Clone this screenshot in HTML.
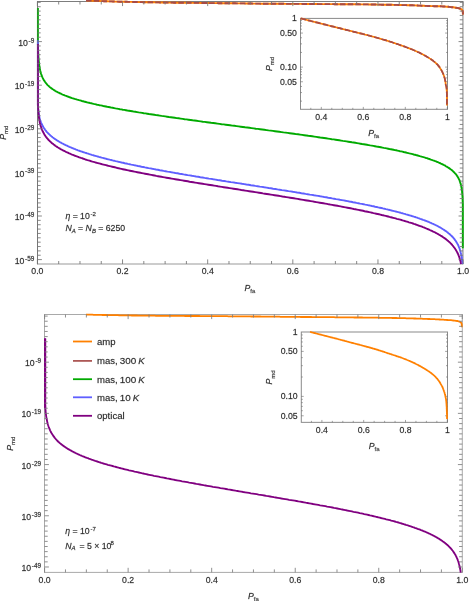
<!DOCTYPE html>
<html><head><meta charset="utf-8"><title>ROC plots</title>
<style>
html,body{margin:0;padding:0;background:#fff;}
body{width:469px;height:601px;overflow:hidden;font-family:"Liberation Sans",sans-serif;}
svg{display:block;font-family:"Liberation Sans",sans-serif;will-change:transform;}
text{stroke:#2a2a2a;stroke-width:0.3px;stroke-opacity:0.55;}
</style></head><body>
<svg width="469" height="601" viewBox="0 0 469 601">
<rect width="469" height="601" fill="#fff"/>
<line x1="37.50" y1="1.07" x2="37.50" y2="264.43" stroke="#666" stroke-width="0.85"/>
<line x1="462.95" y1="1.07" x2="462.95" y2="264.43" stroke="#666" stroke-width="0.85"/>
<line x1="37.50" y1="1.50" x2="462.95" y2="1.50" stroke="#666" stroke-width="0.85"/>
<line x1="37.50" y1="264.00" x2="462.95" y2="264.00" stroke="#888" stroke-width="0.85"/>
<path d="M86.0,0.4L87.3,0.5L88.5,0.5L89.8,0.6L91.1,0.6L92.4,0.7L93.6,0.8L94.9,0.8L96.2,0.9L97.5,0.9L98.7,1.0L100.0,1.0L101.3,1.1L102.6,1.1L103.8,1.2L105.1,1.2L106.4,1.3L107.7,1.3L108.9,1.4L110.2,1.4L111.5,1.4L112.8,1.5L114.0,1.5L115.3,1.6L116.6,1.6L117.9,1.6L119.1,1.7L120.4,1.7L121.7,1.7L123.0,1.7L124.2,1.8L125.5,1.8L126.8,1.8L128.1,1.9L129.3,1.9L130.6,1.9L131.9,1.9L133.2,2.0L134.4,2.0L135.7,2.0L137.0,2.0L138.3,2.1L139.5,2.1L140.8,2.1L142.1,2.1L143.4,2.2L144.6,2.2L145.9,2.2L147.2,2.2L148.5,2.3L149.7,2.3L151.0,2.3L152.3,2.3L153.6,2.3L154.9,2.4L156.1,2.4L157.4,2.4L158.7,2.4L160.0,2.5L161.2,2.5L162.5,2.5L163.8,2.5L165.1,2.5L166.3,2.5L167.6,2.6L168.9,2.6L170.2,2.6L171.4,2.6L172.7,2.6L174.0,2.7L175.3,2.7L176.5,2.7L177.8,2.7L179.1,2.7L180.4,2.7L181.6,2.7L182.9,2.8L184.2,2.8L185.5,2.8L186.7,2.8L188.0,2.8L189.3,2.8L190.6,2.8L191.8,2.9L193.1,2.9L194.4,2.9L195.7,2.9L196.9,2.9L198.2,2.9L199.5,2.9L200.8,3.0L202.0,3.0L203.3,3.0L204.6,3.0L205.9,3.0L207.1,3.0L208.4,3.0L209.7,3.1L211.0,3.1L212.2,3.1L213.5,3.1L214.8,3.1L216.1,3.1L217.4,3.1L218.6,3.2L219.9,3.2L221.2,3.2L222.5,3.2L223.7,3.2L225.0,3.2L226.3,3.2L227.6,3.3L228.8,3.3L230.1,3.3L231.4,3.3L232.7,3.3L233.9,3.3L235.2,3.3L236.5,3.4L237.8,3.4L239.0,3.4L240.3,3.4L241.6,3.4L242.9,3.4L244.1,3.4L245.4,3.5L246.7,3.5L248.0,3.5L249.2,3.5L250.5,3.5L251.8,3.5L253.1,3.6L254.3,3.6L255.6,3.6L256.9,3.6L258.2,3.6L259.4,3.6L260.7,3.7L262.0,3.7L263.3,3.7L264.5,3.7L265.8,3.7L267.1,3.7L268.4,3.7L269.6,3.7L270.9,3.8L272.2,3.8L273.5,3.8L274.7,3.8L276.0,3.8L277.3,3.8L278.6,3.8L279.9,3.8L281.1,3.8L282.4,3.8L283.7,3.8L285.0,3.9L286.2,3.9L287.5,3.9L288.8,3.9L290.1,3.9L291.3,3.9L292.6,3.9L293.9,3.9L295.2,3.9L296.4,3.9L297.7,3.9L299.0,3.9L300.3,3.9L301.5,3.9L302.8,4.0L304.1,4.0L305.4,4.0L306.6,4.0L307.9,4.0L309.2,4.0L310.5,4.0L311.7,4.0L313.0,4.0L314.3,4.0L315.6,4.0L316.8,4.0L318.1,4.1L319.4,4.1L320.7,4.1L321.9,4.1L323.2,4.1L324.5,4.1L325.8,4.1L327.0,4.1L328.3,4.1L329.6,4.1L330.9,4.1L332.2,4.1L333.4,4.1L334.7,4.2L336.0,4.2L337.3,4.2L338.5,4.2L339.8,4.2L341.1,4.2L342.4,4.2L343.6,4.2L344.9,4.2L346.2,4.2L347.5,4.2L348.7,4.3L350.0,4.3L351.3,4.3L352.6,4.3L353.8,4.3L355.1,4.3L356.4,4.3L357.7,4.3L358.9,4.3L360.2,4.4L361.5,4.4L362.8,4.4L364.0,4.4L365.3,4.4L366.6,4.4L367.9,4.4L369.1,4.5L370.4,4.5L371.7,4.5L373.0,4.5L374.2,4.5L375.5,4.5L376.8,4.6L378.1,4.6L379.3,4.6L380.6,4.6L381.9,4.7L383.2,4.7L384.4,4.7L385.7,4.7L387.0,4.7L388.3,4.8L389.5,4.8L390.8,4.8L392.1,4.8L393.4,4.9L394.7,4.9L395.9,4.9L397.2,4.9L398.5,5.0L399.8,5.0L401.0,5.0L402.3,5.1L403.6,5.1L404.9,5.1L406.1,5.1L407.4,5.2L408.7,5.2L410.0,5.3L411.2,5.3L412.5,5.3L413.8,5.4L415.1,5.4L416.3,5.5L417.6,5.5L418.9,5.6L420.2,5.6L421.4,5.7L422.7,5.7L424.0,5.8L425.2,5.9L426.5,5.9L427.8,6.0L429.1,6.0L430.3,6.0L431.6,6.1L432.9,6.1L434.2,6.2L435.5,6.2L436.7,6.2L438.0,6.3L439.3,6.3L440.5,6.3L441.8,6.4L443.1,6.5L444.4,6.5L445.6,6.6L446.9,6.7L448.2,6.8L449.5,6.9L450.7,7.1L452.0,7.2L453.3,7.3L454.5,7.5L455.8,7.7L457.1,7.9L458.3,8.1L459.6,8.5L460.8,8.9L461.9,9.6L462.5,10.7L462.8,11.9L462.9,13.2L462.9,14.5" fill="none" stroke="#ff8000" stroke-width="1.9"/>
<path d="M86.0,0.4L87.3,0.5L88.5,0.5L89.8,0.6L91.1,0.6L92.4,0.7L93.6,0.8L94.9,0.8L96.2,0.9L97.5,0.9L98.7,1.0L100.0,1.0L101.3,1.1L102.6,1.1L103.8,1.2L105.1,1.2L106.4,1.3L107.7,1.3L108.9,1.4L110.2,1.4L111.5,1.4L112.8,1.5L114.0,1.5L115.3,1.6L116.6,1.6L117.9,1.6L119.1,1.7L120.4,1.7L121.7,1.7L123.0,1.7L124.2,1.8L125.5,1.8L126.8,1.8L128.1,1.9L129.3,1.9L130.6,1.9L131.9,1.9L133.2,2.0L134.4,2.0L135.7,2.0L137.0,2.0L138.3,2.1L139.5,2.1L140.8,2.1L142.1,2.1L143.4,2.2L144.6,2.2L145.9,2.2L147.2,2.2L148.5,2.3L149.7,2.3L151.0,2.3L152.3,2.3L153.6,2.3L154.9,2.4L156.1,2.4L157.4,2.4L158.7,2.4L160.0,2.5L161.2,2.5L162.5,2.5L163.8,2.5L165.1,2.5L166.3,2.5L167.6,2.6L168.9,2.6L170.2,2.6L171.4,2.6L172.7,2.6L174.0,2.7L175.3,2.7L176.5,2.7L177.8,2.7L179.1,2.7L180.4,2.7L181.6,2.7L182.9,2.8L184.2,2.8L185.5,2.8L186.7,2.8L188.0,2.8L189.3,2.8L190.6,2.8L191.8,2.9L193.1,2.9L194.4,2.9L195.7,2.9L196.9,2.9L198.2,2.9L199.5,2.9L200.8,3.0L202.0,3.0L203.3,3.0L204.6,3.0L205.9,3.0L207.1,3.0L208.4,3.0L209.7,3.1L211.0,3.1L212.2,3.1L213.5,3.1L214.8,3.1L216.1,3.1L217.4,3.1L218.6,3.2L219.9,3.2L221.2,3.2L222.5,3.2L223.7,3.2L225.0,3.2L226.3,3.2L227.6,3.3L228.8,3.3L230.1,3.3L231.4,3.3L232.7,3.3L233.9,3.3L235.2,3.3L236.5,3.4L237.8,3.4L239.0,3.4L240.3,3.4L241.6,3.4L242.9,3.4L244.1,3.4L245.4,3.5L246.7,3.5L248.0,3.5L249.2,3.5L250.5,3.5L251.8,3.5L253.1,3.6L254.3,3.6L255.6,3.6L256.9,3.6L258.2,3.6L259.4,3.6L260.7,3.7L262.0,3.7L263.3,3.7L264.5,3.7L265.8,3.7L267.1,3.7L268.4,3.7L269.6,3.7L270.9,3.8L272.2,3.8L273.5,3.8L274.7,3.8L276.0,3.8L277.3,3.8L278.6,3.8L279.9,3.8L281.1,3.8L282.4,3.8L283.7,3.8L285.0,3.9L286.2,3.9L287.5,3.9L288.8,3.9L290.1,3.9L291.3,3.9L292.6,3.9L293.9,3.9L295.2,3.9L296.4,3.9L297.7,3.9L299.0,3.9L300.3,3.9L301.5,3.9L302.8,4.0L304.1,4.0L305.4,4.0L306.6,4.0L307.9,4.0L309.2,4.0L310.5,4.0L311.7,4.0L313.0,4.0L314.3,4.0L315.6,4.0L316.8,4.0L318.1,4.1L319.4,4.1L320.7,4.1L321.9,4.1L323.2,4.1L324.5,4.1L325.8,4.1L327.0,4.1L328.3,4.1L329.6,4.1L330.9,4.1L332.2,4.1L333.4,4.1L334.7,4.2L336.0,4.2L337.3,4.2L338.5,4.2L339.8,4.2L341.1,4.2L342.4,4.2L343.6,4.2L344.9,4.2L346.2,4.2L347.5,4.2L348.7,4.3L350.0,4.3L351.3,4.3L352.6,4.3L353.8,4.3L355.1,4.3L356.4,4.3L357.7,4.3L358.9,4.3L360.2,4.4L361.5,4.4L362.8,4.4L364.0,4.4L365.3,4.4L366.6,4.4L367.9,4.4L369.1,4.5L370.4,4.5L371.7,4.5L373.0,4.5L374.2,4.5L375.5,4.5L376.8,4.6L378.1,4.6L379.3,4.6L380.6,4.6L381.9,4.7L383.2,4.7L384.4,4.7L385.7,4.7L387.0,4.7L388.3,4.8L389.5,4.8L390.8,4.8L392.1,4.8L393.4,4.9L394.7,4.9L395.9,4.9L397.2,4.9L398.5,5.0L399.8,5.0L401.0,5.0L402.3,5.1L403.6,5.1L404.9,5.1L406.1,5.1L407.4,5.2L408.7,5.2L410.0,5.3L411.2,5.3L412.5,5.3L413.8,5.4L415.1,5.4L416.3,5.5L417.6,5.5L418.9,5.6L420.2,5.6L421.4,5.7L422.7,5.7L424.0,5.8L425.2,5.9L426.5,5.9L427.8,6.0L429.1,6.0L430.3,6.0L431.6,6.1L432.9,6.1L434.2,6.2L435.5,6.2L436.7,6.2L438.0,6.3L439.3,6.3L440.5,6.3L441.8,6.4L443.1,6.5L444.4,6.5L445.6,6.6L446.9,6.7L448.2,6.8L449.5,6.9L450.7,7.1L452.0,7.2L453.3,7.3L454.5,7.5L455.8,7.7L457.1,7.9L458.3,8.1L459.6,8.5L460.8,8.9L461.9,9.6L462.5,10.7L462.8,11.9L462.9,13.2L462.9,14.5" fill="none" stroke="#a84a46" stroke-width="1.9" stroke-dasharray="5.6 2.1"/>
<path d="M37.9,8.0L37.9,9.1L37.9,10.3L37.9,11.3L37.9,12.4L37.9,13.5L37.9,14.5L37.9,15.6L37.9,16.6L37.9,17.6L37.9,18.6L37.9,19.6L37.9,20.6L37.9,21.6L37.9,22.6L37.9,23.5L37.9,24.4L37.9,25.4L37.9,26.3L37.9,27.2L37.9,28.1L37.9,29.0L37.9,29.9L37.9,30.7L37.9,31.6L37.9,32.4L37.9,33.3L37.9,34.1L37.9,34.9L37.9,35.7L37.9,36.5L37.9,37.3L37.9,38.1L37.9,38.8L37.9,39.6L37.9,40.4L37.9,41.1L37.9,41.8L37.9,42.6L37.9,43.3L37.9,44.0L37.9,44.7L37.9,45.4L38.0,46.1L38.0,46.8L38.0,47.4L38.0,48.1L38.0,48.8L38.1,49.4L38.1,50.0L38.1,50.7L38.1,51.3L38.2,51.9L38.2,52.5L38.2,53.1L38.3,53.7L38.3,54.3L38.3,54.9L38.4,55.5L38.4,56.1L38.4,56.7L38.5,57.2L38.5,57.8L38.5,58.3L38.6,58.9L38.6,59.4L38.7,59.9L38.7,60.5L38.8,61.0L38.8,61.5L38.9,62.0L38.9,62.5L39.0,63.0L39.1,64.0L39.2,65.0L39.4,65.9L39.5,66.8L39.7,67.7L39.8,68.6L40.0,69.5L40.2,70.4L40.4,71.2L40.6,72.0L40.8,72.8L41.0,73.6L41.3,74.4L41.6,75.2L41.8,75.9L42.1,76.7L42.5,77.4L42.8,78.1L43.2,78.8L43.5,79.5L43.9,80.2L44.4,80.9L44.8,81.5L45.3,82.2L45.8,82.9L46.3,83.5L46.8,84.1L47.4,84.8L48.0,85.4L48.7,86.0L49.3,86.6L50.0,87.2L50.8,87.8L51.5,88.4L52.4,89.0L52.8,89.3L53.2,89.5L53.6,89.8L54.1,90.1L54.6,90.4L55.0,90.7L55.5,91.0L56.0,91.3L56.5,91.5L57.0,91.8L57.5,92.1L58.1,92.4L58.6,92.6L59.2,92.9L59.7,93.2L60.3,93.5L60.9,93.7L61.5,94.0L62.1,94.3L62.8,94.6L63.4,94.8L64.1,95.1L64.7,95.4L65.4,95.7L66.1,95.9L66.8,96.2L67.5,96.5L68.3,96.7L69.0,97.0L69.8,97.3L70.5,97.5L71.3,97.8L72.1,98.1L72.9,98.3L73.8,98.6L74.6,98.9L75.5,99.1L76.4,99.4L77.2,99.7L78.2,99.9L79.1,100.2L80.0,100.4L81.0,100.7L81.9,101.0L82.9,101.2L83.9,101.5L84.9,101.8L85.9,102.0L87.0,102.3L88.1,102.6L89.1,102.8L90.2,103.1L91.3,103.3L92.5,103.6L93.6,103.9L94.8,104.1L95.9,104.4L97.1,104.7L98.3,104.9L99.5,105.2L100.8,105.4L102.0,105.7L103.3,106.0L104.6,106.2L105.9,106.5L107.2,106.8L108.6,107.0L109.9,107.3L111.3,107.6L112.7,107.8L114.1,108.1L115.5,108.4L116.9,108.6L118.4,108.9L119.9,109.2L121.3,109.4L122.8,109.7L124.4,109.9L125.9,110.2L127.4,110.5L129.0,110.7L130.6,111.0L132.2,111.3L133.8,111.6L135.4,111.8L137.0,112.1L138.7,112.4L140.4,112.6L142.1,112.9L143.8,113.2L145.5,113.4L147.2,113.7L149.0,114.0L150.7,114.2L152.5,114.5L154.3,114.8L156.1,115.1L157.9,115.3L159.7,115.6L161.6,115.9L163.4,116.1L165.3,116.4L167.1,116.7L169.0,117.0L170.9,117.2L172.8,117.5L174.8,117.8L176.7,118.1L178.7,118.3L180.6,118.6L182.6,118.9L184.6,119.2L186.5,119.4L188.5,119.7L190.6,120.0L192.6,120.3L194.6,120.5L196.6,120.8L198.7,121.1L200.7,121.4L202.8,121.7L204.8,121.9L206.9,122.2L209.0,122.5L211.1,122.8L213.2,123.0L215.3,123.3L217.4,123.6L219.5,123.9L221.6,124.2L223.7,124.4L225.8,124.7L228.0,125.0L230.1,125.3L232.2,125.6L234.4,125.8L236.5,126.1L238.6,126.4L240.8,126.7L242.9,127.0L245.1,127.3L247.2,127.5L249.4,127.8L251.5,128.1L253.7,128.4L255.8,128.7L257.9,128.9L260.1,129.2L262.2,129.5L264.4,129.8L266.5,130.1L268.6,130.4L270.8,130.6L272.9,130.9L275.0,131.2L277.1,131.5L279.3,131.8L281.4,132.1L283.5,132.4L285.6,132.6L287.7,132.9L289.8,133.2L291.9,133.5L293.9,133.8L296.0,134.1L298.1,134.3L300.1,134.6L302.2,134.9L304.2,135.2L306.3,135.5L308.3,135.8L310.3,136.0L312.3,136.3L314.3,136.6L316.3,136.9L318.3,137.2L320.2,137.5L322.2,137.7L324.1,138.0L326.1,138.3L328.0,138.6L329.9,138.9L331.8,139.2L333.7,139.4L335.6,139.7L337.4,140.0L339.3,140.3L341.1,140.6L342.9,140.9L344.8,141.1L346.5,141.4L348.3,141.7L350.1,142.0L351.9,142.3L353.6,142.5L355.3,142.8L357.0,143.1L358.7,143.4L360.4,143.7L362.1,144.0L363.8,144.2L365.4,144.5L367.0,144.8L368.6,145.1L370.2,145.4L371.8,145.6L373.4,145.9L374.9,146.2L376.4,146.5L378.0,146.7L379.4,147.0L380.9,147.3L382.4,147.6L383.8,147.9L385.3,148.1L386.7,148.4L388.1,148.7L389.5,149.0L390.9,149.2L392.2,149.5L393.5,149.8L394.9,150.1L396.2,150.3L397.4,150.6L398.7,150.9L400.0,151.2L401.2,151.4L402.4,151.7L403.6,152.0L404.8,152.3L406.0,152.5L407.1,152.8L408.3,153.1L409.4,153.4L410.5,153.6L411.6,153.9L412.7,154.2L413.7,154.5L414.8,154.7L415.8,155.0L416.8,155.3L417.8,155.5L418.8,155.8L419.8,156.1L420.7,156.3L421.6,156.6L422.6,156.9L423.5,157.2L424.4,157.4L425.2,157.7L426.1,158.0L426.9,158.2L427.8,158.5L428.6,158.8L429.4,159.0L430.2,159.3L430.9,159.6L431.7,159.8L432.4,160.1L433.2,160.4L433.9,160.6L434.6,160.9L435.3,161.2L436.0,161.4L436.6,161.7L437.3,162.0L437.9,162.2L438.6,162.5L439.2,162.8L439.8,163.0L440.4,163.3L440.9,163.6L441.5,163.8L442.1,164.1L442.6,164.4L443.1,164.7L443.7,164.9L444.2,165.2L444.7,165.5L445.2,165.7L445.6,166.0L446.1,166.3L446.6,166.5L447.0,166.8L447.4,167.1L447.9,167.3L448.7,167.9L449.5,168.4L450.2,168.9L451.0,169.5L451.7,170.0L452.3,170.6L452.9,171.1L453.5,171.7L454.1,172.2L454.6,172.8L455.1,173.3L455.6,173.9L456.1,174.4L456.5,175.0L456.9,175.6L457.3,176.1L457.6,176.7L458.0,177.3L458.3,177.9L458.6,178.5L458.9,179.0L459.2,179.6L459.5,180.2L459.7,180.9L459.9,181.5L460.1,182.1L460.3,182.7L460.5,183.4L460.7,184.0L460.9,184.7L461.0,185.3L461.2,186.0L461.3,186.7L461.4,187.3L461.6,188.0L461.7,188.7L461.8,189.5L461.9,190.2L462.0,190.9L462.1,191.7L462.1,192.4L462.2,193.2L462.3,194.0L462.3,194.8L462.4,195.6L462.5,196.5L462.5,197.3L462.6,198.2L462.6,199.1L462.6,200.0L462.7,200.9L462.7,201.8L462.7,202.8L462.8,203.7L462.8,204.7L462.8,205.2L462.8,205.7L462.8,206.2L462.8,206.8L462.8,207.3L462.8,207.8L462.8,208.4L462.8,208.9L462.8,209.4L462.8,210.0L462.8,210.6L462.8,211.1L462.8,211.7L462.8,212.3L462.8,212.9L462.8,213.4L462.8,214.0L462.8,214.6L462.8,215.3L462.8,215.9L462.8,216.5L462.8,217.1L462.8,217.8L462.8,218.4L462.8,219.1L462.8,219.7L462.8,220.4L462.8,221.1L462.8,221.8L462.8,222.4L462.8,223.1L462.8,223.8L462.8,224.6L462.8,225.3L462.8,226.0L462.8,226.7L462.8,227.5L462.8,228.3L462.8,229.0L462.8,229.8L462.8,230.6L462.8,231.4L462.8,232.2L462.8,233.0L462.8,233.8L462.8,234.6L462.8,235.5L462.8,236.3L462.8,237.2L462.8,238.0L462.8,238.9L462.8,239.8L462.8,240.7L462.8,241.6L462.8,242.5L462.8,243.5L462.8,244.4L462.8,245.3L462.8,246.3L462.8,247.3L462.8,248.3L462.8,248.3" fill="none" stroke="#00aa00" stroke-width="1.9"/>
<path d="M37.9,40.3L37.9,83.4L37.9,83.9L37.9,84.5L37.9,85.0L37.9,85.5L37.9,86.1L37.9,86.7L37.9,87.2L37.9,87.8L37.9,88.4L37.9,89.1L37.9,89.6L37.9,90.1L37.9,90.6L37.9,91.2L37.9,91.8L37.9,92.4L37.9,93.0L37.9,93.6L37.9,94.2L37.9,94.9L37.9,95.5L37.9,96.2L37.9,96.9L37.9,97.6L37.9,98.3L37.9,99.1L37.9,99.8L37.9,100.3L37.9,100.8L37.9,101.3L37.9,101.9L37.9,102.4L37.9,102.9L37.9,103.5L37.9,104.0L37.9,104.5L37.9,105.1L37.9,105.6L37.9,106.2L38.0,106.7L38.0,107.3L38.0,107.9L38.1,108.5L38.1,109.0L38.2,109.6L38.3,110.2L38.3,110.8L38.4,111.4L38.5,112.0L38.6,112.6L38.7,113.2L38.7,113.8L38.9,114.4L39.0,115.0L39.1,115.6L39.2,116.2L39.4,116.8L39.5,117.5L39.7,118.1L39.8,118.7L40.0,119.3L40.2,120.0L40.4,120.6L40.6,121.3L40.9,121.9L41.1,122.5L41.4,123.2L41.7,123.8L42.0,124.5L42.3,125.1L42.6,125.8L43.0,126.4L43.4,127.1L43.8,127.8L44.2,128.4L44.7,129.1L45.1,129.7L45.6,130.4L46.2,131.1L46.7,131.8L47.3,132.4L48.0,133.1L48.6,133.8L49.3,134.4L50.1,135.1L50.4,135.5L50.8,135.8L51.2,136.1L51.6,136.5L52.1,136.8L52.5,137.2L52.9,137.5L53.4,137.8L53.8,138.2L54.3,138.5L54.8,138.9L55.3,139.2L55.8,139.5L56.3,139.9L56.8,140.2L57.4,140.6L57.9,140.9L58.5,141.3L59.1,141.6L59.7,142.0L60.3,142.3L60.9,142.6L61.5,143.0L62.1,143.3L62.8,143.7L63.5,144.0L64.1,144.4L64.8,144.7L65.5,145.1L66.3,145.4L67.0,145.7L67.8,146.1L68.5,146.4L69.3,146.8L70.1,147.1L70.9,147.5L71.7,147.8L72.6,148.2L73.4,148.5L74.3,148.9L75.2,149.2L76.1,149.6L77.0,149.9L78.0,150.3L78.9,150.6L79.9,151.0L80.9,151.3L81.9,151.6L82.9,152.0L83.9,152.3L85.0,152.7L86.1,153.0L87.2,153.4L88.3,153.7L89.4,154.1L90.5,154.4L91.7,154.8L92.9,155.1L94.0,155.5L95.3,155.8L96.5,156.2L97.7,156.5L99.0,156.9L100.3,157.2L101.6,157.6L102.9,157.9L104.2,158.3L105.6,158.6L106.9,159.0L108.3,159.3L109.7,159.7L111.1,160.0L112.6,160.4L114.0,160.7L115.5,161.1L117.0,161.4L118.5,161.8L120.0,162.1L121.6,162.5L123.2,162.8L124.7,163.2L126.3,163.5L127.9,163.9L129.6,164.2L131.2,164.6L132.9,164.9L134.6,165.3L136.3,165.6L138.0,166.0L139.7,166.3L141.5,166.7L143.2,167.0L145.0,167.4L146.8,167.7L148.6,168.1L150.4,168.4L152.3,168.8L154.1,169.1L156.0,169.5L157.9,169.8L159.8,170.2L161.7,170.5L163.6,170.9L165.5,171.2L167.5,171.6L169.5,171.9L171.4,172.3L173.4,172.6L175.4,173.0L177.5,173.3L179.5,173.7L181.5,174.0L183.6,174.4L185.6,174.7L187.7,175.1L189.8,175.4L191.9,175.8L194.0,176.1L196.1,176.5L198.2,176.8L200.3,177.2L202.5,177.5L204.6,177.9L206.8,178.2L208.9,178.6L211.1,178.9L213.3,179.3L215.5,179.6L217.6,180.0L219.8,180.3L222.0,180.7L224.2,181.0L226.4,181.4L228.6,181.7L230.9,182.1L233.1,182.4L235.3,182.8L237.5,183.1L239.7,183.4L242.0,183.8L244.2,184.1L246.4,184.5L248.7,184.8L250.9,185.2L253.1,185.5L255.4,185.9L257.6,186.2L259.8,186.6L262.0,186.9L264.3,187.3L266.5,187.6L268.7,188.0L270.9,188.3L273.1,188.7L275.3,189.0L277.5,189.4L279.7,189.7L281.9,190.1L284.1,190.4L286.3,190.7L288.5,191.1L290.6,191.4L292.8,191.8L295.0,192.1L297.1,192.5L299.3,192.8L301.4,193.2L303.5,193.5L305.6,193.9L307.7,194.2L309.8,194.6L311.9,194.9L314.0,195.3L316.1,195.6L318.1,195.9L320.2,196.3L322.2,196.6L324.2,197.0L326.2,197.3L328.2,197.7L330.2,198.0L332.2,198.4L334.1,198.7L336.1,199.1L338.0,199.4L339.9,199.8L341.8,200.1L343.7,200.4L345.6,200.8L347.5,201.1L349.3,201.5L351.1,201.8L353.0,202.2L354.8,202.5L356.5,202.9L358.3,203.2L360.1,203.6L361.8,203.9L363.5,204.2L365.2,204.6L366.9,204.9L368.6,205.3L370.3,205.6L371.9,206.0L373.5,206.3L375.1,206.7L376.7,207.0L378.3,207.4L379.8,207.7L381.4,208.0L382.9,208.4L384.4,208.7L385.9,209.1L387.3,209.4L388.8,209.8L390.2,210.1L391.6,210.5L393.0,210.8L394.4,211.2L395.8,211.5L397.1,211.8L398.4,212.2L399.7,212.5L401.0,212.9L402.3,213.2L403.5,213.6L404.8,213.9L406.0,214.3L407.2,214.6L408.4,215.0L409.5,215.3L410.7,215.6L411.8,216.0L412.9,216.3L414.0,216.7L415.1,217.0L416.2,217.4L417.2,217.7L418.2,218.1L419.2,218.4L420.2,218.8L421.2,219.1L422.2,219.5L423.1,219.8L424.1,220.1L425.0,220.5L425.9,220.8L426.7,221.2L427.6,221.5L428.5,221.9L429.3,222.2L430.1,222.6L430.9,222.9L431.7,223.3L432.5,223.6L433.2,224.0L434.0,224.3L434.7,224.7L435.4,225.0L436.1,225.3L436.8,225.7L437.5,226.0L438.2,226.4L438.8,226.7L439.4,227.1L440.1,227.4L440.7,227.8L441.3,228.1L441.8,228.5L442.4,228.8L443.0,229.2L443.5,229.5L444.0,229.9L444.6,230.2L445.1,230.6L445.6,230.9L446.1,231.3L446.5,231.6L447.0,232.0L447.5,232.3L447.9,232.7L448.3,233.0L448.8,233.4L449.2,233.7L449.6,234.1L450.0,234.4L450.4,234.8L450.7,235.1L451.1,235.5L451.5,235.8L452.1,236.5L452.8,237.2L453.4,237.9L454.0,238.6L454.6,239.3L455.1,240.1L455.6,240.8L456.1,241.5L456.5,242.2L456.9,242.9L457.3,243.6L457.7,244.3L458.1,245.0L458.4,245.7L458.7,246.5L459.0,247.2L459.3,247.9L459.6,248.6L459.8,249.3L460.0,250.0L460.2,250.8L460.5,251.5L460.6,252.2L460.8,252.9L461.0,253.7L461.1,254.4L461.3,255.1L461.4,255.9L461.5,256.6L461.7,257.3L461.8,258.1L461.9,258.8L462.0,259.5L462.1,260.3L462.1,261.0L462.2,261.7L462.3,262.5L462.4,263.2L462.4,264.0L462.4,264.0" fill="none" stroke="#5f5fff" stroke-width="1.9"/>
<path d="M37.9,44.0L37.9,44.8L37.9,45.5L37.9,46.3L37.9,47.0L37.9,47.7L37.9,48.4L37.9,49.2L37.9,49.9L37.9,50.6L37.9,51.3L37.9,52.0L37.9,52.7L37.9,53.4L37.9,54.1L37.9,54.8L37.9,55.5L37.9,56.1L37.9,56.8L37.9,57.5L37.9,58.1L37.9,58.8L37.9,59.5L37.9,60.1L37.9,60.8L37.9,61.4L37.9,62.1L37.9,62.7L37.9,63.3L37.9,64.0L37.9,64.6L37.9,65.2L37.9,65.8L37.9,66.4L37.9,67.1L37.9,67.7L37.9,68.3L37.9,68.9L37.9,69.5L37.9,70.1L37.9,70.7L37.9,71.2L37.9,71.8L37.9,72.4L37.9,73.0L37.9,73.6L37.9,74.1L37.9,74.7L37.9,75.3L37.9,75.8L37.9,76.4L37.9,76.9L37.9,77.5L37.9,78.0L37.9,78.6L37.9,79.1L37.9,79.7L37.9,80.2L37.9,80.7L37.9,81.3L37.9,81.8L37.9,82.3L37.9,82.9L37.9,83.4L37.9,83.9L37.9,84.4L37.9,84.9L37.9,85.4L37.9,85.9L37.9,86.4L37.9,86.9L37.9,87.9L37.9,88.9L37.9,89.9L37.9,90.9L37.9,91.8L37.9,92.8L37.9,93.7L37.9,94.6L37.9,95.6L37.9,96.5L37.9,97.4L37.9,98.3L37.9,99.1L37.9,100.0L37.9,100.9L37.9,101.8L37.9,102.6L37.9,103.5L37.9,104.3L37.9,105.1L38.0,106.0L38.0,106.8L38.1,107.6L38.1,108.4L38.2,109.2L38.2,110.0L38.3,110.8L38.3,111.6L38.4,112.3L38.5,113.1L38.5,113.9L38.6,114.6L38.7,115.4L38.8,116.1L38.9,116.9L39.0,117.6L39.1,118.4L39.2,119.1L39.3,119.8L39.4,120.5L39.6,121.2L39.7,122.0L39.8,122.7L40.0,123.4L40.2,124.1L40.4,124.8L40.5,125.5L40.7,126.2L41.0,126.8L41.2,127.5L41.4,128.2L41.7,128.9L41.9,129.6L42.2,130.2L42.5,130.9L42.8,131.6L43.2,132.2L43.5,132.9L43.9,133.5L44.2,134.2L44.6,134.9L45.1,135.5L45.5,136.1L46.0,136.8L46.5,137.4L47.0,138.1L47.5,138.7L48.1,139.4L48.6,140.0L49.3,140.6L49.9,141.3L50.6,141.9L51.3,142.5L52.0,143.2L52.8,143.8L53.2,144.1L53.6,144.4L54.0,144.7L54.4,145.0L54.8,145.3L55.2,145.7L55.7,146.0L56.1,146.3L56.6,146.6L57.1,146.9L57.5,147.2L58.0,147.5L58.5,147.8L59.0,148.1L59.6,148.4L60.1,148.8L60.6,149.1L61.2,149.4L61.7,149.7L62.3,150.0L62.9,150.3L63.5,150.6L64.1,150.9L64.7,151.2L65.3,151.5L65.9,151.8L66.6,152.1L67.2,152.4L67.9,152.7L68.6,153.1L69.3,153.4L70.0,153.7L70.7,154.0L71.4,154.3L72.1,154.6L72.9,154.9L73.6,155.2L74.4,155.5L75.2,155.8L76.0,156.1L76.8,156.4L77.6,156.7L78.5,157.0L79.3,157.3L80.2,157.6L81.0,157.9L81.9,158.2L82.8,158.5L83.7,158.8L84.7,159.2L85.6,159.5L86.6,159.8L87.5,160.1L88.5,160.4L89.5,160.7L90.5,161.0L91.5,161.3L92.5,161.6L93.6,161.9L94.6,162.2L95.7,162.5L96.8,162.8L97.9,163.1L99.0,163.4L100.1,163.7L101.3,164.0L102.4,164.3L103.6,164.6L104.8,164.9L106.0,165.2L107.2,165.5L108.4,165.8L109.7,166.1L110.9,166.4L112.2,166.7L113.5,167.0L114.8,167.3L116.1,167.6L117.4,168.0L118.7,168.3L120.1,168.6L121.4,168.9L122.8,169.2L124.2,169.5L125.6,169.8L127.0,170.1L128.4,170.4L129.9,170.7L131.3,171.0L132.8,171.3L134.3,171.6L135.8,171.9L137.3,172.2L138.8,172.5L140.3,172.8L141.9,173.1L143.4,173.4L145.0,173.7L146.6,174.0L148.2,174.3L149.8,174.6L151.4,174.9L153.0,175.2L154.6,175.5L156.3,175.9L158.0,176.2L159.6,176.5L161.3,176.8L163.0,177.1L164.7,177.4L166.4,177.7L168.2,178.0L169.9,178.3L171.6,178.6L173.4,178.9L175.2,179.2L176.9,179.5L178.7,179.8L180.5,180.1L182.3,180.4L184.1,180.7L185.9,181.0L187.8,181.3L189.6,181.7L191.4,182.0L193.3,182.3L195.1,182.6L197.0,182.9L198.9,183.2L200.8,183.5L202.6,183.8L204.5,184.1L206.4,184.4L208.3,184.7L210.2,185.0L212.2,185.3L214.1,185.6L216.0,185.9L217.9,186.3L219.9,186.6L221.8,186.9L223.7,187.2L225.7,187.5L227.6,187.8L229.6,188.1L231.5,188.4L233.5,188.7L235.4,189.0L237.4,189.3L239.4,189.6L241.3,190.0L243.3,190.3L245.2,190.6L247.2,190.9L249.2,191.2L251.1,191.5L253.1,191.8L255.1,192.1L257.0,192.4L259.0,192.7L261.0,193.0L262.9,193.4L264.9,193.7L266.8,194.0L268.8,194.3L270.8,194.6L272.7,194.9L274.6,195.2L276.6,195.5L278.5,195.8L280.5,196.1L282.4,196.5L284.3,196.8L286.3,197.1L288.2,197.4L290.1,197.7L292.0,198.0L293.9,198.3L295.8,198.6L297.7,198.9L299.6,199.3L301.5,199.6L303.3,199.9L305.2,200.2L307.0,200.5L308.9,200.8L310.7,201.1L312.6,201.4L314.4,201.8L316.2,202.1L318.0,202.4L319.8,202.7L321.6,203.0L323.4,203.3L325.2,203.6L327.0,203.9L328.7,204.3L330.5,204.6L332.2,204.9L333.9,205.2L335.6,205.5L337.4,205.8L339.0,206.1L340.7,206.4L342.4,206.8L344.1,207.1L345.7,207.4L347.4,207.7L349.0,208.0L350.6,208.3L352.2,208.6L353.8,209.0L355.4,209.3L357.0,209.6L358.5,209.9L360.1,210.2L361.6,210.5L363.1,210.8L364.6,211.2L366.1,211.5L367.6,211.8L369.1,212.1L370.5,212.4L372.0,212.7L373.4,213.1L374.8,213.4L376.2,213.7L377.6,214.0L379.0,214.3L380.3,214.6L381.7,215.0L383.0,215.3L384.4,215.6L385.7,215.9L387.0,216.2L388.2,216.5L389.5,216.9L390.8,217.2L392.0,217.5L393.2,217.8L394.4,218.1L395.6,218.4L396.8,218.8L398.0,219.1L399.1,219.4L400.3,219.7L401.4,220.0L402.5,220.4L403.6,220.7L404.7,221.0L405.8,221.3L406.9,221.6L407.9,221.9L408.9,222.3L410.0,222.6L411.0,222.9L412.0,223.2L412.9,223.5L413.9,223.9L414.9,224.2L415.8,224.5L416.7,224.8L417.6,225.1L418.5,225.5L419.4,225.8L420.3,226.1L421.2,226.4L422.0,226.7L422.9,227.1L423.7,227.4L424.5,227.7L425.3,228.0L426.1,228.4L426.8,228.7L427.6,229.0L428.4,229.3L429.1,229.6L429.8,230.0L430.5,230.3L431.2,230.6L431.9,230.9L432.6,231.3L433.3,231.6L433.9,231.9L434.6,232.2L435.2,232.5L435.8,232.9L436.4,233.2L437.0,233.5L437.6,233.8L438.2,234.2L438.8,234.5L439.3,234.8L439.9,235.1L440.4,235.5L441.0,235.8L441.5,236.1L442.0,236.4L442.5,236.8L443.0,237.1L443.5,237.4L443.9,237.8L444.4,238.1L444.9,238.4L445.3,238.7L445.7,239.1L446.2,239.4L446.6,239.7L447.0,240.1L447.4,240.4L447.8,240.7L448.2,241.0L448.5,241.4L449.3,242.0L450.0,242.7L450.7,243.4L451.3,244.0L451.9,244.7L452.5,245.4L453.1,246.0L453.6,246.7L454.1,247.4L454.6,248.0L455.1,248.7L455.5,249.4L455.9,250.1L456.3,250.7L456.7,251.4L457.1,252.1L457.4,252.8L457.8,253.5L458.1,254.1L458.4,254.8L458.6,255.5L458.9,256.2L459.2,256.9L459.4,257.6L459.6,258.3L459.8,259.0L460.0,259.7L460.2,260.4L460.4,261.1L460.6,261.8L460.7,262.5L460.9,263.3L461.0,264.0L461.0,264.0" fill="none" stroke="#800080" stroke-width="1.9"/>
<line x1="37.50" y1="8.00" x2="37.50" y2="264.00" stroke="#666" stroke-width="0.85" opacity="0.35"/>
<line x1="37.40" y1="264.00" x2="37.40" y2="259.40" stroke="#747474" stroke-width="0.85"/>
<line x1="37.40" y1="1.50" x2="37.40" y2="6.10" stroke="#747474" stroke-width="0.85"/>
<text x="37.40" y="274.00" font-size="8.7" text-anchor="middle" fill="#2a2a2a">0.0</text>
<line x1="58.69" y1="264.00" x2="58.69" y2="261.00" stroke="#747474" stroke-width="0.85"/>
<line x1="58.69" y1="1.50" x2="58.69" y2="4.50" stroke="#747474" stroke-width="0.85"/>
<line x1="79.97" y1="264.00" x2="79.97" y2="261.00" stroke="#747474" stroke-width="0.85"/>
<line x1="79.97" y1="1.50" x2="79.97" y2="4.50" stroke="#747474" stroke-width="0.85"/>
<line x1="101.26" y1="264.00" x2="101.26" y2="261.00" stroke="#747474" stroke-width="0.85"/>
<line x1="101.26" y1="1.50" x2="101.26" y2="4.50" stroke="#747474" stroke-width="0.85"/>
<line x1="122.54" y1="264.00" x2="122.54" y2="259.40" stroke="#747474" stroke-width="0.85"/>
<line x1="122.54" y1="1.50" x2="122.54" y2="6.10" stroke="#747474" stroke-width="0.85"/>
<text x="122.54" y="274.00" font-size="8.7" text-anchor="middle" fill="#2a2a2a">0.2</text>
<line x1="143.82" y1="264.00" x2="143.82" y2="261.00" stroke="#747474" stroke-width="0.85"/>
<line x1="143.82" y1="1.50" x2="143.82" y2="4.50" stroke="#747474" stroke-width="0.85"/>
<line x1="165.11" y1="264.00" x2="165.11" y2="261.00" stroke="#747474" stroke-width="0.85"/>
<line x1="165.11" y1="1.50" x2="165.11" y2="4.50" stroke="#747474" stroke-width="0.85"/>
<line x1="186.40" y1="264.00" x2="186.40" y2="261.00" stroke="#747474" stroke-width="0.85"/>
<line x1="186.40" y1="1.50" x2="186.40" y2="4.50" stroke="#747474" stroke-width="0.85"/>
<line x1="207.68" y1="264.00" x2="207.68" y2="259.40" stroke="#747474" stroke-width="0.85"/>
<line x1="207.68" y1="1.50" x2="207.68" y2="6.10" stroke="#747474" stroke-width="0.85"/>
<text x="207.68" y="274.00" font-size="8.7" text-anchor="middle" fill="#2a2a2a">0.4</text>
<line x1="228.97" y1="264.00" x2="228.97" y2="261.00" stroke="#747474" stroke-width="0.85"/>
<line x1="228.97" y1="1.50" x2="228.97" y2="4.50" stroke="#747474" stroke-width="0.85"/>
<line x1="250.25" y1="264.00" x2="250.25" y2="261.00" stroke="#747474" stroke-width="0.85"/>
<line x1="250.25" y1="1.50" x2="250.25" y2="4.50" stroke="#747474" stroke-width="0.85"/>
<line x1="271.54" y1="264.00" x2="271.54" y2="261.00" stroke="#747474" stroke-width="0.85"/>
<line x1="271.54" y1="1.50" x2="271.54" y2="4.50" stroke="#747474" stroke-width="0.85"/>
<line x1="292.82" y1="264.00" x2="292.82" y2="259.40" stroke="#747474" stroke-width="0.85"/>
<line x1="292.82" y1="1.50" x2="292.82" y2="6.10" stroke="#747474" stroke-width="0.85"/>
<text x="292.82" y="274.00" font-size="8.7" text-anchor="middle" fill="#2a2a2a">0.6</text>
<line x1="314.10" y1="264.00" x2="314.10" y2="261.00" stroke="#747474" stroke-width="0.85"/>
<line x1="314.10" y1="1.50" x2="314.10" y2="4.50" stroke="#747474" stroke-width="0.85"/>
<line x1="335.39" y1="264.00" x2="335.39" y2="261.00" stroke="#747474" stroke-width="0.85"/>
<line x1="335.39" y1="1.50" x2="335.39" y2="4.50" stroke="#747474" stroke-width="0.85"/>
<line x1="356.67" y1="264.00" x2="356.67" y2="261.00" stroke="#747474" stroke-width="0.85"/>
<line x1="356.67" y1="1.50" x2="356.67" y2="4.50" stroke="#747474" stroke-width="0.85"/>
<line x1="377.96" y1="264.00" x2="377.96" y2="259.40" stroke="#747474" stroke-width="0.85"/>
<line x1="377.96" y1="1.50" x2="377.96" y2="6.10" stroke="#747474" stroke-width="0.85"/>
<text x="377.96" y="274.00" font-size="8.7" text-anchor="middle" fill="#2a2a2a">0.8</text>
<line x1="399.25" y1="264.00" x2="399.25" y2="261.00" stroke="#747474" stroke-width="0.85"/>
<line x1="399.25" y1="1.50" x2="399.25" y2="4.50" stroke="#747474" stroke-width="0.85"/>
<line x1="420.53" y1="264.00" x2="420.53" y2="261.00" stroke="#747474" stroke-width="0.85"/>
<line x1="420.53" y1="1.50" x2="420.53" y2="4.50" stroke="#747474" stroke-width="0.85"/>
<line x1="441.81" y1="264.00" x2="441.81" y2="261.00" stroke="#747474" stroke-width="0.85"/>
<line x1="441.81" y1="1.50" x2="441.81" y2="4.50" stroke="#747474" stroke-width="0.85"/>
<line x1="463.10" y1="264.00" x2="463.10" y2="259.40" stroke="#747474" stroke-width="0.85"/>
<line x1="463.10" y1="1.50" x2="463.10" y2="6.10" stroke="#747474" stroke-width="0.85"/>
<text x="463.10" y="274.00" font-size="8.7" text-anchor="middle" fill="#2a2a2a">1.0</text>
<line x1="37.50" y1="2.36" x2="40.70" y2="2.36" stroke="#747474" stroke-width="0.85"/>
<line x1="462.95" y1="2.36" x2="459.75" y2="2.36" stroke="#747474" stroke-width="0.85"/>
<line x1="37.50" y1="6.72" x2="40.70" y2="6.72" stroke="#747474" stroke-width="0.85"/>
<line x1="462.95" y1="6.72" x2="459.75" y2="6.72" stroke="#747474" stroke-width="0.85"/>
<line x1="37.50" y1="11.08" x2="40.70" y2="11.08" stroke="#747474" stroke-width="0.85"/>
<line x1="462.95" y1="11.08" x2="459.75" y2="11.08" stroke="#747474" stroke-width="0.85"/>
<line x1="37.50" y1="15.44" x2="40.70" y2="15.44" stroke="#747474" stroke-width="0.85"/>
<line x1="462.95" y1="15.44" x2="459.75" y2="15.44" stroke="#747474" stroke-width="0.85"/>
<line x1="37.50" y1="19.80" x2="40.70" y2="19.80" stroke="#747474" stroke-width="0.85"/>
<line x1="462.95" y1="19.80" x2="459.75" y2="19.80" stroke="#747474" stroke-width="0.85"/>
<line x1="37.50" y1="24.16" x2="40.70" y2="24.16" stroke="#747474" stroke-width="0.85"/>
<line x1="462.95" y1="24.16" x2="459.75" y2="24.16" stroke="#747474" stroke-width="0.85"/>
<line x1="37.50" y1="28.52" x2="40.70" y2="28.52" stroke="#747474" stroke-width="0.85"/>
<line x1="462.95" y1="28.52" x2="459.75" y2="28.52" stroke="#747474" stroke-width="0.85"/>
<line x1="37.50" y1="32.88" x2="40.70" y2="32.88" stroke="#747474" stroke-width="0.85"/>
<line x1="462.95" y1="32.88" x2="459.75" y2="32.88" stroke="#747474" stroke-width="0.85"/>
<line x1="37.50" y1="37.24" x2="40.70" y2="37.24" stroke="#747474" stroke-width="0.85"/>
<line x1="462.95" y1="37.24" x2="459.75" y2="37.24" stroke="#747474" stroke-width="0.85"/>
<line x1="37.50" y1="41.60" x2="41.90" y2="41.60" stroke="#747474" stroke-width="0.85"/>
<line x1="462.95" y1="41.60" x2="458.55" y2="41.60" stroke="#747474" stroke-width="0.85"/>
<text x="34.30" y="45.70" font-size="8.7" text-anchor="end" fill="#2a2a2a">10<tspan dx="0.7" dy="-3.1" font-size="6.4">-9</tspan></text>
<line x1="37.50" y1="45.96" x2="40.70" y2="45.96" stroke="#747474" stroke-width="0.85"/>
<line x1="462.95" y1="45.96" x2="459.75" y2="45.96" stroke="#747474" stroke-width="0.85"/>
<line x1="37.50" y1="50.32" x2="40.70" y2="50.32" stroke="#747474" stroke-width="0.85"/>
<line x1="462.95" y1="50.32" x2="459.75" y2="50.32" stroke="#747474" stroke-width="0.85"/>
<line x1="37.50" y1="54.68" x2="40.70" y2="54.68" stroke="#747474" stroke-width="0.85"/>
<line x1="462.95" y1="54.68" x2="459.75" y2="54.68" stroke="#747474" stroke-width="0.85"/>
<line x1="37.50" y1="59.04" x2="40.70" y2="59.04" stroke="#747474" stroke-width="0.85"/>
<line x1="462.95" y1="59.04" x2="459.75" y2="59.04" stroke="#747474" stroke-width="0.85"/>
<line x1="37.50" y1="63.40" x2="40.70" y2="63.40" stroke="#747474" stroke-width="0.85"/>
<line x1="462.95" y1="63.40" x2="459.75" y2="63.40" stroke="#747474" stroke-width="0.85"/>
<line x1="37.50" y1="67.76" x2="40.70" y2="67.76" stroke="#747474" stroke-width="0.85"/>
<line x1="462.95" y1="67.76" x2="459.75" y2="67.76" stroke="#747474" stroke-width="0.85"/>
<line x1="37.50" y1="72.12" x2="40.70" y2="72.12" stroke="#747474" stroke-width="0.85"/>
<line x1="462.95" y1="72.12" x2="459.75" y2="72.12" stroke="#747474" stroke-width="0.85"/>
<line x1="37.50" y1="76.48" x2="40.70" y2="76.48" stroke="#747474" stroke-width="0.85"/>
<line x1="462.95" y1="76.48" x2="459.75" y2="76.48" stroke="#747474" stroke-width="0.85"/>
<line x1="37.50" y1="80.84" x2="40.70" y2="80.84" stroke="#747474" stroke-width="0.85"/>
<line x1="462.95" y1="80.84" x2="459.75" y2="80.84" stroke="#747474" stroke-width="0.85"/>
<line x1="37.50" y1="85.20" x2="41.90" y2="85.20" stroke="#747474" stroke-width="0.85"/>
<line x1="462.95" y1="85.20" x2="458.55" y2="85.20" stroke="#747474" stroke-width="0.85"/>
<text x="34.30" y="89.30" font-size="8.7" text-anchor="end" fill="#2a2a2a">10<tspan dx="0.7" dy="-3.1" font-size="6.4">-19</tspan></text>
<line x1="37.50" y1="89.56" x2="40.70" y2="89.56" stroke="#747474" stroke-width="0.85"/>
<line x1="462.95" y1="89.56" x2="459.75" y2="89.56" stroke="#747474" stroke-width="0.85"/>
<line x1="37.50" y1="93.92" x2="40.70" y2="93.92" stroke="#747474" stroke-width="0.85"/>
<line x1="462.95" y1="93.92" x2="459.75" y2="93.92" stroke="#747474" stroke-width="0.85"/>
<line x1="37.50" y1="98.28" x2="40.70" y2="98.28" stroke="#747474" stroke-width="0.85"/>
<line x1="462.95" y1="98.28" x2="459.75" y2="98.28" stroke="#747474" stroke-width="0.85"/>
<line x1="37.50" y1="102.64" x2="40.70" y2="102.64" stroke="#747474" stroke-width="0.85"/>
<line x1="462.95" y1="102.64" x2="459.75" y2="102.64" stroke="#747474" stroke-width="0.85"/>
<line x1="37.50" y1="107.00" x2="40.70" y2="107.00" stroke="#747474" stroke-width="0.85"/>
<line x1="462.95" y1="107.00" x2="459.75" y2="107.00" stroke="#747474" stroke-width="0.85"/>
<line x1="37.50" y1="111.36" x2="40.70" y2="111.36" stroke="#747474" stroke-width="0.85"/>
<line x1="462.95" y1="111.36" x2="459.75" y2="111.36" stroke="#747474" stroke-width="0.85"/>
<line x1="37.50" y1="115.72" x2="40.70" y2="115.72" stroke="#747474" stroke-width="0.85"/>
<line x1="462.95" y1="115.72" x2="459.75" y2="115.72" stroke="#747474" stroke-width="0.85"/>
<line x1="37.50" y1="120.08" x2="40.70" y2="120.08" stroke="#747474" stroke-width="0.85"/>
<line x1="462.95" y1="120.08" x2="459.75" y2="120.08" stroke="#747474" stroke-width="0.85"/>
<line x1="37.50" y1="124.44" x2="40.70" y2="124.44" stroke="#747474" stroke-width="0.85"/>
<line x1="462.95" y1="124.44" x2="459.75" y2="124.44" stroke="#747474" stroke-width="0.85"/>
<line x1="37.50" y1="128.80" x2="41.90" y2="128.80" stroke="#747474" stroke-width="0.85"/>
<line x1="462.95" y1="128.80" x2="458.55" y2="128.80" stroke="#747474" stroke-width="0.85"/>
<text x="34.30" y="132.90" font-size="8.7" text-anchor="end" fill="#2a2a2a">10<tspan dx="0.7" dy="-3.1" font-size="6.4">-29</tspan></text>
<line x1="37.50" y1="133.16" x2="40.70" y2="133.16" stroke="#747474" stroke-width="0.85"/>
<line x1="462.95" y1="133.16" x2="459.75" y2="133.16" stroke="#747474" stroke-width="0.85"/>
<line x1="37.50" y1="137.52" x2="40.70" y2="137.52" stroke="#747474" stroke-width="0.85"/>
<line x1="462.95" y1="137.52" x2="459.75" y2="137.52" stroke="#747474" stroke-width="0.85"/>
<line x1="37.50" y1="141.88" x2="40.70" y2="141.88" stroke="#747474" stroke-width="0.85"/>
<line x1="462.95" y1="141.88" x2="459.75" y2="141.88" stroke="#747474" stroke-width="0.85"/>
<line x1="37.50" y1="146.24" x2="40.70" y2="146.24" stroke="#747474" stroke-width="0.85"/>
<line x1="462.95" y1="146.24" x2="459.75" y2="146.24" stroke="#747474" stroke-width="0.85"/>
<line x1="37.50" y1="150.60" x2="40.70" y2="150.60" stroke="#747474" stroke-width="0.85"/>
<line x1="462.95" y1="150.60" x2="459.75" y2="150.60" stroke="#747474" stroke-width="0.85"/>
<line x1="37.50" y1="154.96" x2="40.70" y2="154.96" stroke="#747474" stroke-width="0.85"/>
<line x1="462.95" y1="154.96" x2="459.75" y2="154.96" stroke="#747474" stroke-width="0.85"/>
<line x1="37.50" y1="159.32" x2="40.70" y2="159.32" stroke="#747474" stroke-width="0.85"/>
<line x1="462.95" y1="159.32" x2="459.75" y2="159.32" stroke="#747474" stroke-width="0.85"/>
<line x1="37.50" y1="163.68" x2="40.70" y2="163.68" stroke="#747474" stroke-width="0.85"/>
<line x1="462.95" y1="163.68" x2="459.75" y2="163.68" stroke="#747474" stroke-width="0.85"/>
<line x1="37.50" y1="168.04" x2="40.70" y2="168.04" stroke="#747474" stroke-width="0.85"/>
<line x1="462.95" y1="168.04" x2="459.75" y2="168.04" stroke="#747474" stroke-width="0.85"/>
<line x1="37.50" y1="172.40" x2="41.90" y2="172.40" stroke="#747474" stroke-width="0.85"/>
<line x1="462.95" y1="172.40" x2="458.55" y2="172.40" stroke="#747474" stroke-width="0.85"/>
<text x="34.30" y="176.50" font-size="8.7" text-anchor="end" fill="#2a2a2a">10<tspan dx="0.7" dy="-3.1" font-size="6.4">-39</tspan></text>
<line x1="37.50" y1="176.76" x2="40.70" y2="176.76" stroke="#747474" stroke-width="0.85"/>
<line x1="462.95" y1="176.76" x2="459.75" y2="176.76" stroke="#747474" stroke-width="0.85"/>
<line x1="37.50" y1="181.12" x2="40.70" y2="181.12" stroke="#747474" stroke-width="0.85"/>
<line x1="462.95" y1="181.12" x2="459.75" y2="181.12" stroke="#747474" stroke-width="0.85"/>
<line x1="37.50" y1="185.48" x2="40.70" y2="185.48" stroke="#747474" stroke-width="0.85"/>
<line x1="462.95" y1="185.48" x2="459.75" y2="185.48" stroke="#747474" stroke-width="0.85"/>
<line x1="37.50" y1="189.84" x2="40.70" y2="189.84" stroke="#747474" stroke-width="0.85"/>
<line x1="462.95" y1="189.84" x2="459.75" y2="189.84" stroke="#747474" stroke-width="0.85"/>
<line x1="37.50" y1="194.20" x2="40.70" y2="194.20" stroke="#747474" stroke-width="0.85"/>
<line x1="462.95" y1="194.20" x2="459.75" y2="194.20" stroke="#747474" stroke-width="0.85"/>
<line x1="37.50" y1="198.56" x2="40.70" y2="198.56" stroke="#747474" stroke-width="0.85"/>
<line x1="462.95" y1="198.56" x2="459.75" y2="198.56" stroke="#747474" stroke-width="0.85"/>
<line x1="37.50" y1="202.92" x2="40.70" y2="202.92" stroke="#747474" stroke-width="0.85"/>
<line x1="462.95" y1="202.92" x2="459.75" y2="202.92" stroke="#747474" stroke-width="0.85"/>
<line x1="37.50" y1="207.28" x2="40.70" y2="207.28" stroke="#747474" stroke-width="0.85"/>
<line x1="462.95" y1="207.28" x2="459.75" y2="207.28" stroke="#747474" stroke-width="0.85"/>
<line x1="37.50" y1="211.64" x2="40.70" y2="211.64" stroke="#747474" stroke-width="0.85"/>
<line x1="462.95" y1="211.64" x2="459.75" y2="211.64" stroke="#747474" stroke-width="0.85"/>
<line x1="37.50" y1="216.00" x2="41.90" y2="216.00" stroke="#747474" stroke-width="0.85"/>
<line x1="462.95" y1="216.00" x2="458.55" y2="216.00" stroke="#747474" stroke-width="0.85"/>
<text x="34.30" y="220.10" font-size="8.7" text-anchor="end" fill="#2a2a2a">10<tspan dx="0.7" dy="-3.1" font-size="6.4">-49</tspan></text>
<line x1="37.50" y1="220.36" x2="40.70" y2="220.36" stroke="#747474" stroke-width="0.85"/>
<line x1="462.95" y1="220.36" x2="459.75" y2="220.36" stroke="#747474" stroke-width="0.85"/>
<line x1="37.50" y1="224.72" x2="40.70" y2="224.72" stroke="#747474" stroke-width="0.85"/>
<line x1="462.95" y1="224.72" x2="459.75" y2="224.72" stroke="#747474" stroke-width="0.85"/>
<line x1="37.50" y1="229.08" x2="40.70" y2="229.08" stroke="#747474" stroke-width="0.85"/>
<line x1="462.95" y1="229.08" x2="459.75" y2="229.08" stroke="#747474" stroke-width="0.85"/>
<line x1="37.50" y1="233.44" x2="40.70" y2="233.44" stroke="#747474" stroke-width="0.85"/>
<line x1="462.95" y1="233.44" x2="459.75" y2="233.44" stroke="#747474" stroke-width="0.85"/>
<line x1="37.50" y1="237.80" x2="40.70" y2="237.80" stroke="#747474" stroke-width="0.85"/>
<line x1="462.95" y1="237.80" x2="459.75" y2="237.80" stroke="#747474" stroke-width="0.85"/>
<line x1="37.50" y1="242.16" x2="40.70" y2="242.16" stroke="#747474" stroke-width="0.85"/>
<line x1="462.95" y1="242.16" x2="459.75" y2="242.16" stroke="#747474" stroke-width="0.85"/>
<line x1="37.50" y1="246.52" x2="40.70" y2="246.52" stroke="#747474" stroke-width="0.85"/>
<line x1="462.95" y1="246.52" x2="459.75" y2="246.52" stroke="#747474" stroke-width="0.85"/>
<line x1="37.50" y1="250.88" x2="40.70" y2="250.88" stroke="#747474" stroke-width="0.85"/>
<line x1="462.95" y1="250.88" x2="459.75" y2="250.88" stroke="#747474" stroke-width="0.85"/>
<line x1="37.50" y1="255.24" x2="40.70" y2="255.24" stroke="#747474" stroke-width="0.85"/>
<line x1="462.95" y1="255.24" x2="459.75" y2="255.24" stroke="#747474" stroke-width="0.85"/>
<line x1="37.50" y1="259.60" x2="41.90" y2="259.60" stroke="#747474" stroke-width="0.85"/>
<line x1="462.95" y1="259.60" x2="458.55" y2="259.60" stroke="#747474" stroke-width="0.85"/>
<text x="34.30" y="263.70" font-size="8.7" text-anchor="end" fill="#2a2a2a">10<tspan dx="0.7" dy="-3.1" font-size="6.4">-59</tspan></text>
<text x="244.50" y="290.80" font-size="8.7" fill="#2a2a2a"><tspan font-style="italic">P</tspan><tspan dy="2.0" font-size="6.0" fill="#555">fa</tspan></text>
<text transform="translate(6.20,139.70) rotate(-90)" font-size="8.7" fill="#2a2a2a"><tspan font-style="italic">P</tspan><tspan dy="2.2" font-size="6.0" fill="#444">md</tspan></text>
<text x="65.4" y="219.1" font-size="8.7" fill="#2a2a2a"><tspan font-style="italic">η</tspan> = 10<tspan dx="0.7" dy="-3.2" font-size="6.1">-2</tspan></text>
<text x="65.4" y="231.1" font-size="8.7" fill="#2a2a2a"><tspan font-style="italic">N</tspan><tspan dy="1.8" font-size="6" font-style="italic">A</tspan><tspan dy="-1.8"> = </tspan><tspan font-style="italic">N</tspan><tspan dy="1.8" font-size="6" font-style="italic">B</tspan><tspan dy="-1.8"> = 6250</tspan></text>
<rect x="300.50" y="18.40" width="147.00" height="90.90" fill="#fff" stroke="#8a8a8a" stroke-width="1"/>
<line x1="300.50" y1="20.63" x2="302.00" y2="20.63" stroke="#666" stroke-width="0.6"/>
<line x1="447.50" y1="20.63" x2="446.00" y2="20.63" stroke="#666" stroke-width="0.6"/>
<line x1="300.50" y1="23.12" x2="302.00" y2="23.12" stroke="#666" stroke-width="0.6"/>
<line x1="447.50" y1="23.12" x2="446.00" y2="23.12" stroke="#666" stroke-width="0.6"/>
<line x1="300.50" y1="25.94" x2="302.00" y2="25.94" stroke="#666" stroke-width="0.6"/>
<line x1="447.50" y1="25.94" x2="446.00" y2="25.94" stroke="#666" stroke-width="0.6"/>
<line x1="300.50" y1="29.20" x2="302.00" y2="29.20" stroke="#666" stroke-width="0.6"/>
<line x1="447.50" y1="29.20" x2="446.00" y2="29.20" stroke="#666" stroke-width="0.6"/>
<line x1="300.50" y1="33.06" x2="302.90" y2="33.06" stroke="#666" stroke-width="0.6"/>
<line x1="447.50" y1="33.06" x2="445.10" y2="33.06" stroke="#666" stroke-width="0.6"/>
<line x1="300.50" y1="37.78" x2="302.00" y2="37.78" stroke="#666" stroke-width="0.6"/>
<line x1="447.50" y1="37.78" x2="446.00" y2="37.78" stroke="#666" stroke-width="0.6"/>
<line x1="300.50" y1="43.86" x2="302.00" y2="43.86" stroke="#666" stroke-width="0.6"/>
<line x1="447.50" y1="43.86" x2="446.00" y2="43.86" stroke="#666" stroke-width="0.6"/>
<line x1="300.50" y1="52.44" x2="302.00" y2="52.44" stroke="#666" stroke-width="0.6"/>
<line x1="447.50" y1="52.44" x2="446.00" y2="52.44" stroke="#666" stroke-width="0.6"/>
<line x1="300.50" y1="67.10" x2="302.90" y2="67.10" stroke="#666" stroke-width="0.6"/>
<line x1="447.50" y1="67.10" x2="445.10" y2="67.10" stroke="#666" stroke-width="0.6"/>
<line x1="300.50" y1="69.33" x2="302.00" y2="69.33" stroke="#666" stroke-width="0.6"/>
<line x1="447.50" y1="69.33" x2="446.00" y2="69.33" stroke="#666" stroke-width="0.6"/>
<line x1="300.50" y1="71.82" x2="302.00" y2="71.82" stroke="#666" stroke-width="0.6"/>
<line x1="447.50" y1="71.82" x2="446.00" y2="71.82" stroke="#666" stroke-width="0.6"/>
<line x1="300.50" y1="74.64" x2="302.00" y2="74.64" stroke="#666" stroke-width="0.6"/>
<line x1="447.50" y1="74.64" x2="446.00" y2="74.64" stroke="#666" stroke-width="0.6"/>
<line x1="300.50" y1="77.90" x2="302.00" y2="77.90" stroke="#666" stroke-width="0.6"/>
<line x1="447.50" y1="77.90" x2="446.00" y2="77.90" stroke="#666" stroke-width="0.6"/>
<line x1="300.50" y1="81.76" x2="302.90" y2="81.76" stroke="#666" stroke-width="0.6"/>
<line x1="447.50" y1="81.76" x2="445.10" y2="81.76" stroke="#666" stroke-width="0.6"/>
<line x1="300.50" y1="86.48" x2="302.00" y2="86.48" stroke="#666" stroke-width="0.6"/>
<line x1="447.50" y1="86.48" x2="446.00" y2="86.48" stroke="#666" stroke-width="0.6"/>
<line x1="300.50" y1="92.56" x2="302.00" y2="92.56" stroke="#666" stroke-width="0.6"/>
<line x1="447.50" y1="92.56" x2="446.00" y2="92.56" stroke="#666" stroke-width="0.6"/>
<line x1="300.50" y1="101.14" x2="302.00" y2="101.14" stroke="#666" stroke-width="0.6"/>
<line x1="447.50" y1="101.14" x2="446.00" y2="101.14" stroke="#666" stroke-width="0.6"/>
<text x="296.90" y="21.40" font-size="8.7" text-anchor="end" fill="#2a2a2a">1</text>
<text x="296.90" y="36.06" font-size="8.7" text-anchor="end" fill="#2a2a2a">0.50</text>
<text x="296.90" y="70.10" font-size="8.7" text-anchor="end" fill="#2a2a2a">0.10</text>
<text x="296.90" y="84.76" font-size="8.7" text-anchor="end" fill="#2a2a2a">0.05</text>
<line x1="310.80" y1="109.30" x2="310.80" y2="107.80" stroke="#666" stroke-width="0.6"/>
<line x1="321.30" y1="109.30" x2="321.30" y2="106.90" stroke="#666" stroke-width="0.6"/>
<line x1="331.80" y1="109.30" x2="331.80" y2="107.80" stroke="#666" stroke-width="0.6"/>
<line x1="342.30" y1="109.30" x2="342.30" y2="107.80" stroke="#666" stroke-width="0.6"/>
<line x1="352.80" y1="109.30" x2="352.80" y2="107.80" stroke="#666" stroke-width="0.6"/>
<line x1="363.30" y1="109.30" x2="363.30" y2="106.90" stroke="#666" stroke-width="0.6"/>
<line x1="373.80" y1="109.30" x2="373.80" y2="107.80" stroke="#666" stroke-width="0.6"/>
<line x1="384.30" y1="109.30" x2="384.30" y2="107.80" stroke="#666" stroke-width="0.6"/>
<line x1="394.80" y1="109.30" x2="394.80" y2="107.80" stroke="#666" stroke-width="0.6"/>
<line x1="405.30" y1="109.30" x2="405.30" y2="106.90" stroke="#666" stroke-width="0.6"/>
<line x1="415.80" y1="109.30" x2="415.80" y2="107.80" stroke="#666" stroke-width="0.6"/>
<line x1="426.30" y1="109.30" x2="426.30" y2="107.80" stroke="#666" stroke-width="0.6"/>
<line x1="436.80" y1="109.30" x2="436.80" y2="107.80" stroke="#666" stroke-width="0.6"/>
<line x1="447.30" y1="109.30" x2="447.30" y2="106.90" stroke="#666" stroke-width="0.6"/>
<text x="321.30" y="120.00" font-size="8.7" text-anchor="middle" fill="#2a2a2a">0.4</text>
<text x="363.30" y="120.00" font-size="8.7" text-anchor="middle" fill="#2a2a2a">0.6</text>
<text x="405.30" y="120.00" font-size="8.7" text-anchor="middle" fill="#2a2a2a">0.8</text>
<text x="447.30" y="120.00" font-size="8.7" text-anchor="middle" fill="#2a2a2a">1</text>
<text x="368.30" y="136.00" font-size="8.7" fill="#2a2a2a"><tspan font-style="italic">P</tspan><tspan dy="2.0" font-size="6.0" fill="#555">fa</tspan></text>
<text transform="translate(271.80,71.00) rotate(-90)" font-size="8.7" fill="#2a2a2a"><tspan font-style="italic">P</tspan><tspan dy="2.2" font-size="6.0" fill="#444">md</tspan></text>
<path d="M300.7,18.4L301.3,18.6L301.9,18.7L302.5,18.9L303.1,19.0L303.8,19.2L304.4,19.3L305.0,19.5L305.6,19.6L306.2,19.8L306.8,20.0L307.4,20.1L308.0,20.3L308.6,20.4L309.2,20.6L309.9,20.7L310.5,20.9L311.1,21.0L311.7,21.2L312.3,21.4L312.9,21.5L313.5,21.7L314.1,21.8L314.7,22.0L315.4,22.1L316.0,22.3L316.6,22.4L317.2,22.6L317.8,22.7L318.4,22.9L319.0,23.1L319.6,23.2L320.2,23.4L320.8,23.5L321.5,23.7L322.1,23.8L322.7,24.0L323.3,24.1L323.9,24.3L324.5,24.4L325.1,24.6L325.7,24.7L326.3,24.9L327.0,25.0L327.6,25.2L328.2,25.4L328.8,25.5L329.4,25.7L330.0,25.8L330.6,26.0L331.2,26.1L331.8,26.3L332.5,26.4L333.1,26.6L333.7,26.7L334.3,26.9L334.9,27.0L335.5,27.2L336.1,27.3L336.7,27.5L337.3,27.6L338.0,27.8L338.6,27.9L339.2,28.1L339.8,28.2L340.4,28.4L341.0,28.6L341.6,28.7L342.2,28.9L342.8,29.0L343.5,29.2L344.1,29.3L344.7,29.5L345.3,29.6L345.9,29.8L346.5,29.9L347.1,30.1L347.7,30.2L348.3,30.4L349.0,30.5L349.6,30.7L350.2,30.8L350.8,31.0L351.4,31.1L352.0,31.3L352.6,31.5L353.2,31.6L353.8,31.8L354.5,31.9L355.1,32.1L355.7,32.2L356.3,32.4L356.9,32.5L357.5,32.7L358.1,32.8L358.7,33.0L359.3,33.1L360.0,33.3L360.6,33.4L361.2,33.6L361.8,33.7L362.4,33.9L363.0,34.0L363.6,34.2L364.2,34.3L364.8,34.5L365.5,34.7L366.1,34.8L366.7,35.0L367.3,35.1L367.9,35.3L368.5,35.5L369.1,35.6L369.7,35.8L370.3,36.0L370.9,36.1L371.5,36.3L372.1,36.5L372.8,36.6L373.4,36.8L374.0,37.0L374.6,37.1L375.2,37.3L375.8,37.5L376.4,37.6L377.0,37.8L377.6,38.0L378.2,38.1L378.8,38.3L379.4,38.5L380.0,38.7L380.6,38.8L381.2,39.0L381.8,39.2L382.5,39.4L383.1,39.5L383.7,39.7L384.3,39.9L384.9,40.1L385.5,40.2L386.1,40.4L386.7,40.6L387.3,40.8L387.9,41.0L388.5,41.2L389.1,41.3L389.7,41.5L390.3,41.7L390.9,41.9L391.5,42.1L392.1,42.3L392.7,42.5L393.3,42.7L393.9,42.9L394.5,43.1L395.1,43.3L395.7,43.5L396.3,43.7L396.9,43.9L397.5,44.1L398.1,44.3L398.7,44.5L399.2,44.7L399.8,44.9L400.4,45.2L401.0,45.4L401.6,45.6L402.2,45.8L402.8,46.0L403.4,46.2L404.0,46.4L404.6,46.6L405.2,46.8L405.8,47.1L406.4,47.3L407.0,47.5L407.5,47.7L408.1,47.9L408.7,48.2L409.3,48.4L409.9,48.6L410.5,48.8L411.1,49.1L411.7,49.3L412.2,49.5L412.8,49.8L413.4,50.0L414.0,50.3L414.6,50.5L415.1,50.8L415.7,51.0L416.3,51.3L416.9,51.5L417.4,51.8L418.0,52.1L418.6,52.3L419.2,52.6L419.7,52.9L420.3,53.1L420.9,53.4L421.4,53.7L422.0,54.0L422.5,54.3L423.1,54.6L423.7,54.9L424.2,55.2L424.8,55.5L425.3,55.8L425.9,56.1L426.4,56.4L426.9,56.7L427.5,57.0L428.0,57.4L428.6,57.7L429.1,58.0L429.6,58.4L430.2,58.7L430.7,59.1L431.2,59.4L431.7,59.8L432.2,60.1L432.8,60.5L433.3,60.9L433.7,61.3L434.2,61.7L434.7,62.1L435.2,62.5L435.7,62.9L436.1,63.3L436.6,63.8L437.0,64.2L437.5,64.7L437.9,65.1L438.3,65.6L438.7,66.1L439.1,66.6L439.5,67.1L439.8,67.6L440.2,68.2L440.5,68.7L440.8,69.2L441.2,69.8L441.5,70.3L441.8,70.9L442.1,71.4L442.4,72.0L442.6,72.6L442.9,73.1L443.1,73.7L443.4,74.3L443.6,74.9L443.8,75.5L444.0,76.1L444.2,76.7L444.4,77.3L444.6,77.9L444.8,78.5L444.9,79.1L445.0,79.7L445.1,80.3L445.3,81.0L445.4,81.6L445.5,82.2L445.5,82.8L445.6,83.4L445.7,84.1L445.8,84.7L446.0,85.3L446.1,85.9L446.3,86.5L446.4,87.2L446.5,87.8L446.6,88.4L446.6,89.0L446.7,89.6L446.7,90.3L446.7,90.9L446.8,91.5L446.8,92.2L446.8,92.8L446.8,93.4L446.9,94.1L446.9,94.7L446.9,95.3L446.9,96.0L446.9,96.6L446.9,97.2L446.9,97.8L446.9,98.5L446.9,99.1L446.9,99.7L446.9,100.4L446.9,101.0L446.9,101.6L446.9,102.3L446.9,102.9L446.9,103.5L446.9,104.1L446.9,104.8L446.9,105.4" fill="none" stroke="#ff8000" stroke-width="1.7"/>
<path d="M300.7,18.4L301.3,18.6L301.9,18.7L302.5,18.9L303.1,19.0L303.8,19.2L304.4,19.3L305.0,19.5L305.6,19.6L306.2,19.8L306.8,20.0L307.4,20.1L308.0,20.3L308.6,20.4L309.2,20.6L309.9,20.7L310.5,20.9L311.1,21.0L311.7,21.2L312.3,21.4L312.9,21.5L313.5,21.7L314.1,21.8L314.7,22.0L315.4,22.1L316.0,22.3L316.6,22.4L317.2,22.6L317.8,22.7L318.4,22.9L319.0,23.1L319.6,23.2L320.2,23.4L320.8,23.5L321.5,23.7L322.1,23.8L322.7,24.0L323.3,24.1L323.9,24.3L324.5,24.4L325.1,24.6L325.7,24.7L326.3,24.9L327.0,25.0L327.6,25.2L328.2,25.4L328.8,25.5L329.4,25.7L330.0,25.8L330.6,26.0L331.2,26.1L331.8,26.3L332.5,26.4L333.1,26.6L333.7,26.7L334.3,26.9L334.9,27.0L335.5,27.2L336.1,27.3L336.7,27.5L337.3,27.6L338.0,27.8L338.6,27.9L339.2,28.1L339.8,28.2L340.4,28.4L341.0,28.6L341.6,28.7L342.2,28.9L342.8,29.0L343.5,29.2L344.1,29.3L344.7,29.5L345.3,29.6L345.9,29.8L346.5,29.9L347.1,30.1L347.7,30.2L348.3,30.4L349.0,30.5L349.6,30.7L350.2,30.8L350.8,31.0L351.4,31.1L352.0,31.3L352.6,31.5L353.2,31.6L353.8,31.8L354.5,31.9L355.1,32.1L355.7,32.2L356.3,32.4L356.9,32.5L357.5,32.7L358.1,32.8L358.7,33.0L359.3,33.1L360.0,33.3L360.6,33.4L361.2,33.6L361.8,33.7L362.4,33.9L363.0,34.0L363.6,34.2L364.2,34.3L364.8,34.5L365.5,34.7L366.1,34.8L366.7,35.0L367.3,35.1L367.9,35.3L368.5,35.5L369.1,35.6L369.7,35.8L370.3,36.0L370.9,36.1L371.5,36.3L372.1,36.5L372.8,36.6L373.4,36.8L374.0,37.0L374.6,37.1L375.2,37.3L375.8,37.5L376.4,37.6L377.0,37.8L377.6,38.0L378.2,38.1L378.8,38.3L379.4,38.5L380.0,38.7L380.6,38.8L381.2,39.0L381.8,39.2L382.5,39.4L383.1,39.5L383.7,39.7L384.3,39.9L384.9,40.1L385.5,40.2L386.1,40.4L386.7,40.6L387.3,40.8L387.9,41.0L388.5,41.2L389.1,41.3L389.7,41.5L390.3,41.7L390.9,41.9L391.5,42.1L392.1,42.3L392.7,42.5L393.3,42.7L393.9,42.9L394.5,43.1L395.1,43.3L395.7,43.5L396.3,43.7L396.9,43.9L397.5,44.1L398.1,44.3L398.7,44.5L399.2,44.7L399.8,44.9L400.4,45.2L401.0,45.4L401.6,45.6L402.2,45.8L402.8,46.0L403.4,46.2L404.0,46.4L404.6,46.6L405.2,46.8L405.8,47.1L406.4,47.3L407.0,47.5L407.5,47.7L408.1,47.9L408.7,48.2L409.3,48.4L409.9,48.6L410.5,48.8L411.1,49.1L411.7,49.3L412.2,49.5L412.8,49.8L413.4,50.0L414.0,50.3L414.6,50.5L415.1,50.8L415.7,51.0L416.3,51.3L416.9,51.5L417.4,51.8L418.0,52.1L418.6,52.3L419.2,52.6L419.7,52.9L420.3,53.1L420.9,53.4L421.4,53.7L422.0,54.0L422.5,54.3L423.1,54.6L423.7,54.9L424.2,55.2L424.8,55.5L425.3,55.8L425.9,56.1L426.4,56.4L426.9,56.7L427.5,57.0L428.0,57.4L428.6,57.7L429.1,58.0L429.6,58.4L430.2,58.7L430.7,59.1L431.2,59.4L431.7,59.8L432.2,60.1L432.8,60.5L433.3,60.9L433.7,61.3L434.2,61.7L434.7,62.1L435.2,62.5L435.7,62.9L436.1,63.3L436.6,63.8L437.0,64.2L437.5,64.7L437.9,65.1L438.3,65.6L438.7,66.1L439.1,66.6L439.5,67.1L439.8,67.6L440.2,68.2L440.5,68.7L440.8,69.2L441.2,69.8L441.5,70.3L441.8,70.9L442.1,71.4L442.4,72.0L442.6,72.6L442.9,73.1L443.1,73.7L443.4,74.3L443.6,74.9L443.8,75.5L444.0,76.1L444.2,76.7L444.4,77.3L444.6,77.9L444.8,78.5L444.9,79.1L445.0,79.7L445.1,80.3L445.3,81.0L445.4,81.6L445.5,82.2L445.5,82.8L445.6,83.4L445.7,84.1L445.8,84.7L446.0,85.3L446.1,85.9L446.3,86.5L446.4,87.2L446.5,87.8L446.6,88.4L446.6,89.0L446.7,89.6L446.7,90.3L446.7,90.9L446.8,91.5L446.8,92.2L446.8,92.8L446.8,93.4L446.9,94.1L446.9,94.7L446.9,95.3L446.9,96.0L446.9,96.6L446.9,97.2L446.9,97.8L446.9,98.5L446.9,99.1L446.9,99.7L446.9,100.4L446.9,101.0L446.9,101.6L446.9,102.3L446.9,102.9L446.9,103.5L446.9,104.1L446.9,104.8L446.9,105.4" fill="none" stroke="#a84a46" stroke-width="1.7" stroke-dasharray="5.6 2.0"/>
<line x1="44.50" y1="314.07" x2="44.50" y2="572.82" stroke="#999" stroke-width="0.85"/>
<line x1="462.30" y1="314.07" x2="462.30" y2="572.82" stroke="#999" stroke-width="0.85"/>
<line x1="44.50" y1="314.50" x2="462.30" y2="314.50" stroke="#999" stroke-width="0.85"/>
<line x1="44.50" y1="572.40" x2="462.30" y2="572.40" stroke="#999" stroke-width="0.85"/>
<path d="M86.0,314.6L87.3,314.6L88.5,314.7L89.8,314.7L91.1,314.7L92.4,314.7L93.6,314.8L94.9,314.8L96.2,314.8L97.4,314.9L98.7,314.9L100.0,314.9L101.3,314.9L102.5,315.0L103.8,315.0L105.1,315.0L106.3,315.0L107.6,315.1L108.9,315.1L110.2,315.1L111.4,315.1L112.7,315.1L114.0,315.2L115.2,315.2L116.5,315.2L117.8,315.2L119.1,315.3L120.3,315.3L121.6,315.3L122.9,315.3L124.1,315.3L125.4,315.4L126.7,315.4L128.0,315.4L129.2,315.4L130.5,315.4L131.8,315.5L133.1,315.5L134.3,315.5L135.6,315.5L136.9,315.5L138.1,315.6L139.4,315.6L140.7,315.6L142.0,315.6L143.2,315.6L144.5,315.6L145.8,315.7L147.0,315.7L148.3,315.7L149.6,315.7L150.9,315.7L152.1,315.7L153.4,315.7L154.7,315.7L155.9,315.8L157.2,315.8L158.5,315.8L159.8,315.8L161.0,315.8L162.3,315.8L163.6,315.8L164.8,315.8L166.1,315.8L167.4,315.8L168.7,315.8L169.9,315.9L171.2,315.9L172.5,315.9L173.8,315.9L175.0,315.9L176.3,315.9L177.6,315.9L178.8,315.9L180.1,315.9L181.4,315.9L182.7,315.9L183.9,315.9L185.2,316.0L186.5,316.0L187.7,316.0L189.0,316.0L190.3,316.0L191.6,316.0L192.8,316.0L194.1,316.0L195.4,316.0L196.6,316.0L197.9,316.0L199.2,316.0L200.5,316.1L201.7,316.1L203.0,316.1L204.3,316.1L205.5,316.1L206.8,316.1L208.1,316.1L209.4,316.1L210.6,316.1L211.9,316.1L213.2,316.1L214.4,316.2L215.7,316.2L217.0,316.2L218.3,316.2L219.5,316.2L220.8,316.2L222.1,316.2L223.4,316.2L224.6,316.2L225.9,316.2L227.2,316.2L228.4,316.3L229.7,316.3L231.0,316.3L232.3,316.3L233.5,316.3L234.8,316.3L236.1,316.3L237.3,316.3L238.6,316.3L239.9,316.3L241.2,316.4L242.4,316.4L243.7,316.4L245.0,316.4L246.2,316.4L247.5,316.4L248.8,316.4L250.1,316.4L251.3,316.5L252.6,316.5L253.9,316.5L255.1,316.5L256.4,316.5L257.7,316.5L259.0,316.5L260.2,316.5L261.5,316.6L262.8,316.6L264.1,316.6L265.3,316.6L266.6,316.6L267.9,316.6L269.1,316.6L270.4,316.6L271.7,316.7L273.0,316.7L274.2,316.7L275.5,316.7L276.8,316.7L278.0,316.7L279.3,316.7L280.6,316.8L281.9,316.8L283.1,316.8L284.4,316.8L285.7,316.8L286.9,316.8L288.2,316.8L289.5,316.8L290.8,316.9L292.0,316.9L293.3,316.9L294.6,316.9L295.8,316.9L297.1,316.9L298.4,316.9L299.7,316.9L300.9,317.0L302.2,317.0L303.5,317.0L304.8,317.0L306.0,317.0L307.3,317.0L308.6,317.0L309.8,317.0L311.1,317.0L312.4,317.1L313.7,317.1L314.9,317.1L316.2,317.1L317.5,317.1L318.7,317.1L320.0,317.1L321.3,317.1L322.6,317.1L323.8,317.2L325.1,317.2L326.4,317.2L327.6,317.2L328.9,317.2L330.2,317.2L331.5,317.2L332.7,317.2L334.0,317.2L335.3,317.3L336.5,317.3L337.8,317.3L339.1,317.3L340.4,317.3L341.6,317.3L342.9,317.3L344.2,317.3L345.4,317.4L346.7,317.4L348.0,317.4L349.3,317.4L350.5,317.4L351.8,317.4L353.1,317.4L354.4,317.5L355.6,317.5L356.9,317.5L358.2,317.5L359.4,317.5L360.7,317.5L362.0,317.5L363.3,317.6L364.5,317.6L365.8,317.6L367.1,317.6L368.3,317.6L369.6,317.6L370.9,317.6L372.2,317.7L373.4,317.7L374.7,317.7L376.0,317.7L377.2,317.7L378.5,317.7L379.8,317.8L381.1,317.8L382.3,317.8L383.6,317.8L384.9,317.8L386.1,317.9L387.4,317.9L388.7,317.9L390.0,317.9L391.2,317.9L392.5,318.0L393.8,318.0L395.0,318.0L396.3,318.0L397.6,318.1L398.9,318.1L400.1,318.1L401.4,318.1L402.7,318.2L404.0,318.2L405.2,318.2L406.5,318.3L407.8,318.3L409.0,318.3L410.3,318.4L411.6,318.4L412.8,318.4L414.1,318.5L415.4,318.5L416.7,318.6L417.9,318.6L419.2,318.7L420.5,318.7L421.7,318.7L423.0,318.8L424.3,318.8L425.6,318.9L426.8,318.9L428.1,319.0L429.4,319.0L430.6,319.1L431.9,319.1L433.2,319.2L434.5,319.2L435.7,319.3L437.0,319.4L438.3,319.4L439.5,319.5L440.8,319.6L442.1,319.7L443.3,319.7L444.6,319.8L445.9,319.9L447.2,320.0L448.4,320.1L449.7,320.2L451.0,320.2L452.2,320.3L453.5,320.5L454.8,320.6L456.0,320.8L457.3,321.0L458.5,321.3L459.8,321.7L460.9,322.4L461.5,323.4L461.8,324.7L461.8,325.9L461.8,327.2" fill="none" stroke="#ff8000" stroke-width="1.8"/>
<path d="M45.1,338.4L45.1,339.3L45.1,340.1L45.1,340.9L45.1,341.7L45.1,342.5L45.1,343.3L45.1,344.1L45.1,344.9L45.1,345.7L45.1,346.5L45.1,347.2L45.1,348.0L45.1,348.8L45.1,349.5L45.1,350.3L45.1,351.0L45.1,351.8L45.1,352.5L45.1,353.3L45.1,354.0L45.1,354.7L45.1,355.4L45.1,356.1L45.1,356.9L45.1,357.6L45.1,358.3L45.1,359.0L45.1,359.6L45.1,360.3L45.1,361.0L45.1,361.7L45.1,362.4L45.1,363.0L45.1,363.7L45.1,364.4L45.1,365.0L45.1,365.7L45.1,366.3L45.1,367.0L45.1,367.6L45.1,368.3L45.1,368.9L45.1,369.5L45.1,370.2L45.1,370.8L45.1,371.4L45.1,372.0L45.1,372.6L45.1,373.2L45.1,373.8L45.1,374.4L45.1,375.0L45.1,375.6L45.1,376.2L45.1,376.8L45.1,377.4L45.1,378.0L45.1,378.5L45.1,379.1L45.1,379.7L45.1,380.3L45.1,380.8L45.1,381.4L45.1,381.9L45.1,382.5L45.1,383.0L45.1,383.6L45.1,384.1L45.1,384.7L45.1,385.2L45.1,385.8L45.1,386.3L45.1,386.8L45.1,387.3L45.1,387.9L45.1,388.4L45.1,388.9L45.1,389.4L45.1,389.9L45.1,390.4L45.1,391.0L45.1,391.5L45.1,392.0L45.1,392.5L45.1,393.5L45.1,394.4L45.1,395.4L45.1,396.4L45.1,397.3L45.1,398.3L45.1,399.2L45.1,400.1L45.1,401.1L45.1,402.0L45.1,402.9L45.1,403.8L45.1,404.6L45.2,405.5L45.2,406.4L45.3,407.3L45.3,408.1L45.4,409.0L45.5,409.8L45.6,410.6L45.6,411.5L45.7,412.3L45.8,413.1L45.9,413.9L46.0,414.7L46.1,415.5L46.2,416.3L46.3,417.1L46.5,417.9L46.6,418.7L46.7,419.5L46.9,420.2L47.1,421.0L47.2,421.8L47.4,422.5L47.6,423.3L47.8,424.0L48.0,424.8L48.2,425.5L48.5,426.2L48.7,427.0L49.0,427.7L49.3,428.4L49.6,429.2L49.9,429.9L50.2,430.6L50.6,431.3L50.9,432.0L51.3,432.7L51.7,433.4L52.1,434.1L52.6,434.8L53.1,435.5L53.5,436.2L54.1,436.9L54.6,437.6L55.1,438.3L55.7,439.0L56.3,439.7L57.0,440.3L57.6,441.0L58.3,441.7L59.1,442.4L59.4,442.7L59.8,443.0L60.2,443.4L60.6,443.7L61.0,444.1L61.4,444.4L61.9,444.7L62.3,445.1L62.7,445.4L63.2,445.7L63.6,446.1L64.1,446.4L64.6,446.7L65.1,447.1L65.6,447.4L66.1,447.7L66.6,448.1L67.1,448.4L67.7,448.7L68.2,449.1L68.8,449.4L69.3,449.7L69.9,450.0L70.5,450.4L71.1,450.7L71.7,451.0L72.3,451.4L72.9,451.7L73.6,452.0L74.2,452.4L74.9,452.7L75.5,453.0L76.2,453.3L76.9,453.7L77.6,454.0L78.3,454.3L79.1,454.7L79.8,455.0L80.6,455.3L81.3,455.6L82.1,456.0L82.9,456.3L83.7,456.6L84.5,456.9L85.3,457.3L86.2,457.6L87.0,457.9L87.9,458.2L88.8,458.6L89.6,458.9L90.5,459.2L91.5,459.6L92.4,459.9L93.3,460.2L94.3,460.5L95.2,460.9L96.2,461.2L97.2,461.5L98.2,461.8L99.2,462.2L100.3,462.5L101.3,462.8L102.4,463.1L103.4,463.5L104.5,463.8L105.6,464.1L106.7,464.4L107.8,464.8L109.0,465.1L110.1,465.4L111.3,465.7L112.5,466.0L113.7,466.4L114.9,466.7L116.1,467.0L117.3,467.3L118.6,467.7L119.8,468.0L121.1,468.3L122.4,468.6L123.7,469.0L125.0,469.3L126.3,469.6L127.7,469.9L129.0,470.3L130.4,470.6L131.8,470.9L133.1,471.2L134.5,471.6L136.0,471.9L137.4,472.2L138.8,472.5L140.3,472.8L141.7,473.2L143.2,473.5L144.7,473.8L146.2,474.1L147.7,474.5L149.3,474.8L150.8,475.1L152.4,475.4L153.9,475.8L155.5,476.1L157.1,476.4L158.7,476.7L160.3,477.1L161.9,477.4L163.5,477.7L165.2,478.0L166.8,478.4L168.5,478.7L170.2,479.0L171.8,479.3L173.5,479.6L175.2,480.0L176.9,480.3L178.7,480.6L180.4,480.9L182.1,481.3L183.9,481.6L185.6,481.9L187.4,482.2L189.2,482.6L190.9,482.9L192.7,483.2L194.5,483.5L196.3,483.9L198.1,484.2L200.0,484.5L201.8,484.8L203.6,485.2L205.5,485.5L207.3,485.8L209.2,486.1L211.0,486.4L212.9,486.8L214.7,487.1L216.6,487.4L218.5,487.7L220.4,488.1L222.3,488.4L224.2,488.7L226.0,489.0L227.9,489.4L229.8,489.7L231.7,490.0L233.7,490.3L235.6,490.7L237.5,491.0L239.4,491.3L241.3,491.6L243.2,492.0L245.1,492.3L247.1,492.6L249.0,492.9L250.9,493.3L252.8,493.6L254.7,493.9L256.7,494.2L258.6,494.6L260.5,494.9L262.4,495.2L264.3,495.5L266.3,495.9L268.2,496.2L270.1,496.5L272.0,496.8L273.9,497.2L275.8,497.5L277.7,497.8L279.6,498.1L281.5,498.5L283.4,498.8L285.3,499.1L287.2,499.4L289.1,499.8L290.9,500.1L292.8,500.4L294.7,500.7L296.5,501.0L298.4,501.4L300.2,501.7L302.1,502.0L303.9,502.3L305.7,502.7L307.6,503.0L309.4,503.3L311.2,503.6L313.0,504.0L314.8,504.3L316.6,504.6L318.3,504.9L320.1,505.3L321.9,505.6L323.6,505.9L325.4,506.2L327.1,506.6L328.8,506.9L330.5,507.2L332.3,507.5L334.0,507.9L335.6,508.2L337.3,508.5L339.0,508.8L340.6,509.2L342.3,509.5L343.9,509.8L345.5,510.1L347.2,510.5L348.8,510.8L350.4,511.1L351.9,511.4L353.5,511.8L355.1,512.1L356.6,512.4L358.1,512.7L359.7,513.1L361.2,513.4L362.7,513.7L364.2,514.1L365.6,514.4L367.1,514.7L368.5,515.0L370.0,515.4L371.4,515.7L372.8,516.0L374.2,516.3L375.6,516.7L377.0,517.0L378.3,517.3L379.7,517.6L381.0,518.0L382.3,518.3L383.6,518.6L384.9,518.9L386.2,519.3L387.5,519.6L388.7,519.9L390.0,520.2L391.2,520.6L392.4,520.9L393.6,521.2L394.8,521.5L396.0,521.9L397.1,522.2L398.3,522.5L399.4,522.9L400.5,523.2L401.6,523.5L402.7,523.8L403.8,524.2L404.9,524.5L405.9,524.8L407.0,525.1L408.0,525.5L409.0,525.8L410.0,526.1L411.0,526.5L412.0,526.8L412.9,527.1L413.9,527.4L414.8,527.8L415.7,528.1L416.6,528.4L417.5,528.8L418.4,529.1L419.3,529.4L420.1,529.7L421.0,530.1L421.8,530.4L422.6,530.7L423.4,531.1L424.2,531.4L425.0,531.7L425.8,532.0L426.5,532.4L427.3,532.7L428.0,533.0L428.7,533.4L429.5,533.7L430.2,534.0L430.9,534.4L431.5,534.7L432.2,535.0L432.9,535.4L433.5,535.7L434.1,536.0L434.8,536.4L435.4,536.7L436.0,537.0L436.6,537.4L437.1,537.7L437.7,538.0L438.3,538.4L438.8,538.7L439.4,539.0L439.9,539.4L440.4,539.7L440.9,540.0L441.4,540.4L441.9,540.7L442.4,541.0L442.9,541.4L443.3,541.7L443.8,542.1L444.2,542.4L444.7,542.7L445.1,543.1L445.5,543.4L445.9,543.7L446.3,544.1L446.7,544.4L447.1,544.8L447.5,545.1L447.9,545.4L448.6,546.1L449.3,546.8L449.9,547.5L450.6,548.2L451.2,548.9L451.8,549.6L452.3,550.3L452.9,551.0L453.4,551.7L453.8,552.4L454.3,553.1L454.7,553.8L455.2,554.5L455.6,555.2L455.9,555.9L456.3,556.6L456.6,557.4L457.0,558.1L457.3,558.8L457.6,559.6L457.8,560.3L458.1,561.0L458.4,561.8L458.6,562.5L458.8,563.3L459.0,564.0L459.2,564.8L459.4,565.5L459.6,566.3L459.8,567.1L459.9,567.8L460.1,568.6L460.2,569.4L460.4,570.2L460.5,571.0L460.6,571.8L460.7,572.6L460.7,572.6" fill="none" stroke="#800080" stroke-width="1.85"/>
<line x1="45.10" y1="338.40" x2="45.10" y2="408.00" stroke="#800080" stroke-width="2.2"/>
<line x1="44.60" y1="572.40" x2="44.60" y2="567.80" stroke="#7c7c7c" stroke-width="0.85"/>
<line x1="44.60" y1="314.50" x2="44.60" y2="319.10" stroke="#7c7c7c" stroke-width="0.85"/>
<text x="44.60" y="583.00" font-size="8.7" text-anchor="middle" fill="#2a2a2a">0.0</text>
<line x1="65.48" y1="572.40" x2="65.48" y2="569.40" stroke="#7c7c7c" stroke-width="0.85"/>
<line x1="65.48" y1="314.50" x2="65.48" y2="317.50" stroke="#7c7c7c" stroke-width="0.85"/>
<line x1="86.37" y1="572.40" x2="86.37" y2="569.40" stroke="#7c7c7c" stroke-width="0.85"/>
<line x1="86.37" y1="314.50" x2="86.37" y2="317.50" stroke="#7c7c7c" stroke-width="0.85"/>
<line x1="107.26" y1="572.40" x2="107.26" y2="569.40" stroke="#7c7c7c" stroke-width="0.85"/>
<line x1="107.26" y1="314.50" x2="107.26" y2="317.50" stroke="#7c7c7c" stroke-width="0.85"/>
<line x1="128.14" y1="572.40" x2="128.14" y2="567.80" stroke="#7c7c7c" stroke-width="0.85"/>
<line x1="128.14" y1="314.50" x2="128.14" y2="319.10" stroke="#7c7c7c" stroke-width="0.85"/>
<text x="128.14" y="583.00" font-size="8.7" text-anchor="middle" fill="#2a2a2a">0.2</text>
<line x1="149.03" y1="572.40" x2="149.03" y2="569.40" stroke="#7c7c7c" stroke-width="0.85"/>
<line x1="149.03" y1="314.50" x2="149.03" y2="317.50" stroke="#7c7c7c" stroke-width="0.85"/>
<line x1="169.91" y1="572.40" x2="169.91" y2="569.40" stroke="#7c7c7c" stroke-width="0.85"/>
<line x1="169.91" y1="314.50" x2="169.91" y2="317.50" stroke="#7c7c7c" stroke-width="0.85"/>
<line x1="190.80" y1="572.40" x2="190.80" y2="569.40" stroke="#7c7c7c" stroke-width="0.85"/>
<line x1="190.80" y1="314.50" x2="190.80" y2="317.50" stroke="#7c7c7c" stroke-width="0.85"/>
<line x1="211.68" y1="572.40" x2="211.68" y2="567.80" stroke="#7c7c7c" stroke-width="0.85"/>
<line x1="211.68" y1="314.50" x2="211.68" y2="319.10" stroke="#7c7c7c" stroke-width="0.85"/>
<text x="211.68" y="583.00" font-size="8.7" text-anchor="middle" fill="#2a2a2a">0.4</text>
<line x1="232.56" y1="572.40" x2="232.56" y2="569.40" stroke="#7c7c7c" stroke-width="0.85"/>
<line x1="232.56" y1="314.50" x2="232.56" y2="317.50" stroke="#7c7c7c" stroke-width="0.85"/>
<line x1="253.45" y1="572.40" x2="253.45" y2="569.40" stroke="#7c7c7c" stroke-width="0.85"/>
<line x1="253.45" y1="314.50" x2="253.45" y2="317.50" stroke="#7c7c7c" stroke-width="0.85"/>
<line x1="274.34" y1="572.40" x2="274.34" y2="569.40" stroke="#7c7c7c" stroke-width="0.85"/>
<line x1="274.34" y1="314.50" x2="274.34" y2="317.50" stroke="#7c7c7c" stroke-width="0.85"/>
<line x1="295.22" y1="572.40" x2="295.22" y2="567.80" stroke="#7c7c7c" stroke-width="0.85"/>
<line x1="295.22" y1="314.50" x2="295.22" y2="319.10" stroke="#7c7c7c" stroke-width="0.85"/>
<text x="295.22" y="583.00" font-size="8.7" text-anchor="middle" fill="#2a2a2a">0.6</text>
<line x1="316.11" y1="572.40" x2="316.11" y2="569.40" stroke="#7c7c7c" stroke-width="0.85"/>
<line x1="316.11" y1="314.50" x2="316.11" y2="317.50" stroke="#7c7c7c" stroke-width="0.85"/>
<line x1="336.99" y1="572.40" x2="336.99" y2="569.40" stroke="#7c7c7c" stroke-width="0.85"/>
<line x1="336.99" y1="314.50" x2="336.99" y2="317.50" stroke="#7c7c7c" stroke-width="0.85"/>
<line x1="357.88" y1="572.40" x2="357.88" y2="569.40" stroke="#7c7c7c" stroke-width="0.85"/>
<line x1="357.88" y1="314.50" x2="357.88" y2="317.50" stroke="#7c7c7c" stroke-width="0.85"/>
<line x1="378.76" y1="572.40" x2="378.76" y2="567.80" stroke="#7c7c7c" stroke-width="0.85"/>
<line x1="378.76" y1="314.50" x2="378.76" y2="319.10" stroke="#7c7c7c" stroke-width="0.85"/>
<text x="378.76" y="583.00" font-size="8.7" text-anchor="middle" fill="#2a2a2a">0.8</text>
<line x1="399.65" y1="572.40" x2="399.65" y2="569.40" stroke="#7c7c7c" stroke-width="0.85"/>
<line x1="399.65" y1="314.50" x2="399.65" y2="317.50" stroke="#7c7c7c" stroke-width="0.85"/>
<line x1="420.53" y1="572.40" x2="420.53" y2="569.40" stroke="#7c7c7c" stroke-width="0.85"/>
<line x1="420.53" y1="314.50" x2="420.53" y2="317.50" stroke="#7c7c7c" stroke-width="0.85"/>
<line x1="441.42" y1="572.40" x2="441.42" y2="569.40" stroke="#7c7c7c" stroke-width="0.85"/>
<line x1="441.42" y1="314.50" x2="441.42" y2="317.50" stroke="#7c7c7c" stroke-width="0.85"/>
<line x1="462.30" y1="572.40" x2="462.30" y2="567.80" stroke="#7c7c7c" stroke-width="0.85"/>
<line x1="462.30" y1="314.50" x2="462.30" y2="319.10" stroke="#7c7c7c" stroke-width="0.85"/>
<text x="462.30" y="583.00" font-size="8.7" text-anchor="middle" fill="#2a2a2a">1.0</text>
<line x1="44.50" y1="316.10" x2="47.70" y2="316.10" stroke="#7c7c7c" stroke-width="0.85"/>
<line x1="462.30" y1="316.10" x2="459.10" y2="316.10" stroke="#7c7c7c" stroke-width="0.85"/>
<line x1="44.50" y1="321.22" x2="47.70" y2="321.22" stroke="#7c7c7c" stroke-width="0.85"/>
<line x1="462.30" y1="321.22" x2="459.10" y2="321.22" stroke="#7c7c7c" stroke-width="0.85"/>
<line x1="44.50" y1="326.34" x2="47.70" y2="326.34" stroke="#7c7c7c" stroke-width="0.85"/>
<line x1="462.30" y1="326.34" x2="459.10" y2="326.34" stroke="#7c7c7c" stroke-width="0.85"/>
<line x1="44.50" y1="331.46" x2="47.70" y2="331.46" stroke="#7c7c7c" stroke-width="0.85"/>
<line x1="462.30" y1="331.46" x2="459.10" y2="331.46" stroke="#7c7c7c" stroke-width="0.85"/>
<line x1="44.50" y1="336.58" x2="47.70" y2="336.58" stroke="#7c7c7c" stroke-width="0.85"/>
<line x1="462.30" y1="336.58" x2="459.10" y2="336.58" stroke="#7c7c7c" stroke-width="0.85"/>
<line x1="44.50" y1="341.70" x2="47.70" y2="341.70" stroke="#7c7c7c" stroke-width="0.85"/>
<line x1="462.30" y1="341.70" x2="459.10" y2="341.70" stroke="#7c7c7c" stroke-width="0.85"/>
<line x1="44.50" y1="346.82" x2="47.70" y2="346.82" stroke="#7c7c7c" stroke-width="0.85"/>
<line x1="462.30" y1="346.82" x2="459.10" y2="346.82" stroke="#7c7c7c" stroke-width="0.85"/>
<line x1="44.50" y1="351.94" x2="47.70" y2="351.94" stroke="#7c7c7c" stroke-width="0.85"/>
<line x1="462.30" y1="351.94" x2="459.10" y2="351.94" stroke="#7c7c7c" stroke-width="0.85"/>
<line x1="44.50" y1="357.06" x2="47.70" y2="357.06" stroke="#7c7c7c" stroke-width="0.85"/>
<line x1="462.30" y1="357.06" x2="459.10" y2="357.06" stroke="#7c7c7c" stroke-width="0.85"/>
<line x1="44.50" y1="362.18" x2="48.90" y2="362.18" stroke="#7c7c7c" stroke-width="0.85"/>
<line x1="462.30" y1="362.18" x2="457.90" y2="362.18" stroke="#7c7c7c" stroke-width="0.85"/>
<text x="41.10" y="366.28" font-size="8.7" text-anchor="end" fill="#2a2a2a">10<tspan dx="0.7" dy="-3.1" font-size="6.4">-9</tspan></text>
<line x1="44.50" y1="367.30" x2="47.70" y2="367.30" stroke="#7c7c7c" stroke-width="0.85"/>
<line x1="462.30" y1="367.30" x2="459.10" y2="367.30" stroke="#7c7c7c" stroke-width="0.85"/>
<line x1="44.50" y1="372.42" x2="47.70" y2="372.42" stroke="#7c7c7c" stroke-width="0.85"/>
<line x1="462.30" y1="372.42" x2="459.10" y2="372.42" stroke="#7c7c7c" stroke-width="0.85"/>
<line x1="44.50" y1="377.54" x2="47.70" y2="377.54" stroke="#7c7c7c" stroke-width="0.85"/>
<line x1="462.30" y1="377.54" x2="459.10" y2="377.54" stroke="#7c7c7c" stroke-width="0.85"/>
<line x1="44.50" y1="382.66" x2="47.70" y2="382.66" stroke="#7c7c7c" stroke-width="0.85"/>
<line x1="462.30" y1="382.66" x2="459.10" y2="382.66" stroke="#7c7c7c" stroke-width="0.85"/>
<line x1="44.50" y1="387.78" x2="47.70" y2="387.78" stroke="#7c7c7c" stroke-width="0.85"/>
<line x1="462.30" y1="387.78" x2="459.10" y2="387.78" stroke="#7c7c7c" stroke-width="0.85"/>
<line x1="44.50" y1="392.90" x2="47.70" y2="392.90" stroke="#7c7c7c" stroke-width="0.85"/>
<line x1="462.30" y1="392.90" x2="459.10" y2="392.90" stroke="#7c7c7c" stroke-width="0.85"/>
<line x1="44.50" y1="398.02" x2="47.70" y2="398.02" stroke="#7c7c7c" stroke-width="0.85"/>
<line x1="462.30" y1="398.02" x2="459.10" y2="398.02" stroke="#7c7c7c" stroke-width="0.85"/>
<line x1="44.50" y1="403.14" x2="47.70" y2="403.14" stroke="#7c7c7c" stroke-width="0.85"/>
<line x1="462.30" y1="403.14" x2="459.10" y2="403.14" stroke="#7c7c7c" stroke-width="0.85"/>
<line x1="44.50" y1="408.26" x2="47.70" y2="408.26" stroke="#7c7c7c" stroke-width="0.85"/>
<line x1="462.30" y1="408.26" x2="459.10" y2="408.26" stroke="#7c7c7c" stroke-width="0.85"/>
<line x1="44.50" y1="413.38" x2="48.90" y2="413.38" stroke="#7c7c7c" stroke-width="0.85"/>
<line x1="462.30" y1="413.38" x2="457.90" y2="413.38" stroke="#7c7c7c" stroke-width="0.85"/>
<text x="41.10" y="417.48" font-size="8.7" text-anchor="end" fill="#2a2a2a">10<tspan dx="0.7" dy="-3.1" font-size="6.4">-19</tspan></text>
<line x1="44.50" y1="418.50" x2="47.70" y2="418.50" stroke="#7c7c7c" stroke-width="0.85"/>
<line x1="462.30" y1="418.50" x2="459.10" y2="418.50" stroke="#7c7c7c" stroke-width="0.85"/>
<line x1="44.50" y1="423.62" x2="47.70" y2="423.62" stroke="#7c7c7c" stroke-width="0.85"/>
<line x1="462.30" y1="423.62" x2="459.10" y2="423.62" stroke="#7c7c7c" stroke-width="0.85"/>
<line x1="44.50" y1="428.74" x2="47.70" y2="428.74" stroke="#7c7c7c" stroke-width="0.85"/>
<line x1="462.30" y1="428.74" x2="459.10" y2="428.74" stroke="#7c7c7c" stroke-width="0.85"/>
<line x1="44.50" y1="433.86" x2="47.70" y2="433.86" stroke="#7c7c7c" stroke-width="0.85"/>
<line x1="462.30" y1="433.86" x2="459.10" y2="433.86" stroke="#7c7c7c" stroke-width="0.85"/>
<line x1="44.50" y1="438.98" x2="47.70" y2="438.98" stroke="#7c7c7c" stroke-width="0.85"/>
<line x1="462.30" y1="438.98" x2="459.10" y2="438.98" stroke="#7c7c7c" stroke-width="0.85"/>
<line x1="44.50" y1="444.10" x2="47.70" y2="444.10" stroke="#7c7c7c" stroke-width="0.85"/>
<line x1="462.30" y1="444.10" x2="459.10" y2="444.10" stroke="#7c7c7c" stroke-width="0.85"/>
<line x1="44.50" y1="449.22" x2="47.70" y2="449.22" stroke="#7c7c7c" stroke-width="0.85"/>
<line x1="462.30" y1="449.22" x2="459.10" y2="449.22" stroke="#7c7c7c" stroke-width="0.85"/>
<line x1="44.50" y1="454.34" x2="47.70" y2="454.34" stroke="#7c7c7c" stroke-width="0.85"/>
<line x1="462.30" y1="454.34" x2="459.10" y2="454.34" stroke="#7c7c7c" stroke-width="0.85"/>
<line x1="44.50" y1="459.46" x2="47.70" y2="459.46" stroke="#7c7c7c" stroke-width="0.85"/>
<line x1="462.30" y1="459.46" x2="459.10" y2="459.46" stroke="#7c7c7c" stroke-width="0.85"/>
<line x1="44.50" y1="464.58" x2="48.90" y2="464.58" stroke="#7c7c7c" stroke-width="0.85"/>
<line x1="462.30" y1="464.58" x2="457.90" y2="464.58" stroke="#7c7c7c" stroke-width="0.85"/>
<text x="41.10" y="468.68" font-size="8.7" text-anchor="end" fill="#2a2a2a">10<tspan dx="0.7" dy="-3.1" font-size="6.4">-29</tspan></text>
<line x1="44.50" y1="469.70" x2="47.70" y2="469.70" stroke="#7c7c7c" stroke-width="0.85"/>
<line x1="462.30" y1="469.70" x2="459.10" y2="469.70" stroke="#7c7c7c" stroke-width="0.85"/>
<line x1="44.50" y1="474.82" x2="47.70" y2="474.82" stroke="#7c7c7c" stroke-width="0.85"/>
<line x1="462.30" y1="474.82" x2="459.10" y2="474.82" stroke="#7c7c7c" stroke-width="0.85"/>
<line x1="44.50" y1="479.94" x2="47.70" y2="479.94" stroke="#7c7c7c" stroke-width="0.85"/>
<line x1="462.30" y1="479.94" x2="459.10" y2="479.94" stroke="#7c7c7c" stroke-width="0.85"/>
<line x1="44.50" y1="485.06" x2="47.70" y2="485.06" stroke="#7c7c7c" stroke-width="0.85"/>
<line x1="462.30" y1="485.06" x2="459.10" y2="485.06" stroke="#7c7c7c" stroke-width="0.85"/>
<line x1="44.50" y1="490.18" x2="47.70" y2="490.18" stroke="#7c7c7c" stroke-width="0.85"/>
<line x1="462.30" y1="490.18" x2="459.10" y2="490.18" stroke="#7c7c7c" stroke-width="0.85"/>
<line x1="44.50" y1="495.30" x2="47.70" y2="495.30" stroke="#7c7c7c" stroke-width="0.85"/>
<line x1="462.30" y1="495.30" x2="459.10" y2="495.30" stroke="#7c7c7c" stroke-width="0.85"/>
<line x1="44.50" y1="500.42" x2="47.70" y2="500.42" stroke="#7c7c7c" stroke-width="0.85"/>
<line x1="462.30" y1="500.42" x2="459.10" y2="500.42" stroke="#7c7c7c" stroke-width="0.85"/>
<line x1="44.50" y1="505.54" x2="47.70" y2="505.54" stroke="#7c7c7c" stroke-width="0.85"/>
<line x1="462.30" y1="505.54" x2="459.10" y2="505.54" stroke="#7c7c7c" stroke-width="0.85"/>
<line x1="44.50" y1="510.66" x2="47.70" y2="510.66" stroke="#7c7c7c" stroke-width="0.85"/>
<line x1="462.30" y1="510.66" x2="459.10" y2="510.66" stroke="#7c7c7c" stroke-width="0.85"/>
<line x1="44.50" y1="515.78" x2="48.90" y2="515.78" stroke="#7c7c7c" stroke-width="0.85"/>
<line x1="462.30" y1="515.78" x2="457.90" y2="515.78" stroke="#7c7c7c" stroke-width="0.85"/>
<text x="41.10" y="519.88" font-size="8.7" text-anchor="end" fill="#2a2a2a">10<tspan dx="0.7" dy="-3.1" font-size="6.4">-39</tspan></text>
<line x1="44.50" y1="520.90" x2="47.70" y2="520.90" stroke="#7c7c7c" stroke-width="0.85"/>
<line x1="462.30" y1="520.90" x2="459.10" y2="520.90" stroke="#7c7c7c" stroke-width="0.85"/>
<line x1="44.50" y1="526.02" x2="47.70" y2="526.02" stroke="#7c7c7c" stroke-width="0.85"/>
<line x1="462.30" y1="526.02" x2="459.10" y2="526.02" stroke="#7c7c7c" stroke-width="0.85"/>
<line x1="44.50" y1="531.14" x2="47.70" y2="531.14" stroke="#7c7c7c" stroke-width="0.85"/>
<line x1="462.30" y1="531.14" x2="459.10" y2="531.14" stroke="#7c7c7c" stroke-width="0.85"/>
<line x1="44.50" y1="536.26" x2="47.70" y2="536.26" stroke="#7c7c7c" stroke-width="0.85"/>
<line x1="462.30" y1="536.26" x2="459.10" y2="536.26" stroke="#7c7c7c" stroke-width="0.85"/>
<line x1="44.50" y1="541.38" x2="47.70" y2="541.38" stroke="#7c7c7c" stroke-width="0.85"/>
<line x1="462.30" y1="541.38" x2="459.10" y2="541.38" stroke="#7c7c7c" stroke-width="0.85"/>
<line x1="44.50" y1="546.50" x2="47.70" y2="546.50" stroke="#7c7c7c" stroke-width="0.85"/>
<line x1="462.30" y1="546.50" x2="459.10" y2="546.50" stroke="#7c7c7c" stroke-width="0.85"/>
<line x1="44.50" y1="551.62" x2="47.70" y2="551.62" stroke="#7c7c7c" stroke-width="0.85"/>
<line x1="462.30" y1="551.62" x2="459.10" y2="551.62" stroke="#7c7c7c" stroke-width="0.85"/>
<line x1="44.50" y1="556.74" x2="47.70" y2="556.74" stroke="#7c7c7c" stroke-width="0.85"/>
<line x1="462.30" y1="556.74" x2="459.10" y2="556.74" stroke="#7c7c7c" stroke-width="0.85"/>
<line x1="44.50" y1="561.86" x2="47.70" y2="561.86" stroke="#7c7c7c" stroke-width="0.85"/>
<line x1="462.30" y1="561.86" x2="459.10" y2="561.86" stroke="#7c7c7c" stroke-width="0.85"/>
<line x1="44.50" y1="566.98" x2="48.90" y2="566.98" stroke="#7c7c7c" stroke-width="0.85"/>
<line x1="462.30" y1="566.98" x2="457.90" y2="566.98" stroke="#7c7c7c" stroke-width="0.85"/>
<text x="41.10" y="571.08" font-size="8.7" text-anchor="end" fill="#2a2a2a">10<tspan dx="0.7" dy="-3.1" font-size="6.4">-49</tspan></text>
<text x="248.00" y="598.90" font-size="8.7" fill="#2a2a2a"><tspan font-style="italic">P</tspan><tspan dy="2.0" font-size="6.0" fill="#555">fa</tspan></text>
<text transform="translate(13.00,450.80) rotate(-90)" font-size="8.7" fill="#2a2a2a"><tspan font-style="italic">P</tspan><tspan dy="2.2" font-size="6.0" fill="#444">md</tspan></text>
<text x="65.2" y="534" font-size="8.7" fill="#2a2a2a"><tspan font-style="italic">η</tspan> = 10<tspan dx="0.9" dy="-3.2" font-size="6">-7</tspan></text>
<text x="65.2" y="548.6" font-size="8.7" fill="#2a2a2a"><tspan font-style="italic">N</tspan><tspan dy="1.8" font-size="6" font-style="italic">A</tspan><tspan dx="1.6" dy="-1.8"> = 5 × 10</tspan><tspan dx="-1.0" dy="-3.2" font-size="6">8</tspan></text>
<line x1="73.00" y1="341.50" x2="92.00" y2="341.50" stroke="#ff8000" stroke-width="1.8"/>
<text x="97.00" y="344.90" font-size="9.55" text-anchor="start" fill="#2a2a2a">amp</text>
<line x1="73.00" y1="360.90" x2="92.00" y2="360.90" stroke="#ad5856" stroke-width="1.8"/>
<text x="97.00" y="364.30" font-size="9.55" text-anchor="start" fill="#2a2a2a">mas, <tspan x='119.7' font-size='9.9'>300</tspan> <tspan x='138.3' font-style='italic'>K</tspan></text>
<line x1="73.00" y1="379.20" x2="92.00" y2="379.20" stroke="#00aa00" stroke-width="1.8"/>
<text x="97.00" y="382.60" font-size="9.55" text-anchor="start" fill="#2a2a2a">mas, <tspan x='119.7' font-size='9.9'>100</tspan> <tspan x='138.3' font-style='italic'>K</tspan></text>
<line x1="73.00" y1="397.30" x2="92.00" y2="397.30" stroke="#5f5fff" stroke-width="1.8"/>
<text x="97.00" y="400.70" font-size="9.55" text-anchor="start" fill="#2a2a2a">mas, <tspan x='119.7' font-size='9.9'>10</tspan> <tspan x='132.7' font-style='italic'>K</tspan></text>
<line x1="73.00" y1="415.80" x2="92.00" y2="415.80" stroke="#800080" stroke-width="1.8"/>
<text x="97.00" y="419.20" font-size="9.55" text-anchor="start" fill="#2a2a2a">optical</text>
<rect x="301.30" y="332.00" width="146.20" height="90.35" fill="#fff" stroke="#8a8a8a" stroke-width="1"/>
<line x1="301.30" y1="334.95" x2="302.80" y2="334.95" stroke="#666" stroke-width="0.6"/>
<line x1="447.50" y1="334.95" x2="446.00" y2="334.95" stroke="#666" stroke-width="0.6"/>
<line x1="301.30" y1="338.24" x2="302.80" y2="338.24" stroke="#666" stroke-width="0.6"/>
<line x1="447.50" y1="338.24" x2="446.00" y2="338.24" stroke="#666" stroke-width="0.6"/>
<line x1="301.30" y1="341.98" x2="302.80" y2="341.98" stroke="#666" stroke-width="0.6"/>
<line x1="447.50" y1="341.98" x2="446.00" y2="341.98" stroke="#666" stroke-width="0.6"/>
<line x1="301.30" y1="346.29" x2="302.80" y2="346.29" stroke="#666" stroke-width="0.6"/>
<line x1="447.50" y1="346.29" x2="446.00" y2="346.29" stroke="#666" stroke-width="0.6"/>
<line x1="301.30" y1="351.39" x2="303.70" y2="351.39" stroke="#666" stroke-width="0.6"/>
<line x1="447.50" y1="351.39" x2="445.10" y2="351.39" stroke="#666" stroke-width="0.6"/>
<line x1="301.30" y1="357.63" x2="302.80" y2="357.63" stroke="#666" stroke-width="0.6"/>
<line x1="447.50" y1="357.63" x2="446.00" y2="357.63" stroke="#666" stroke-width="0.6"/>
<line x1="301.30" y1="365.67" x2="302.80" y2="365.67" stroke="#666" stroke-width="0.6"/>
<line x1="447.50" y1="365.67" x2="446.00" y2="365.67" stroke="#666" stroke-width="0.6"/>
<line x1="301.30" y1="377.01" x2="302.80" y2="377.01" stroke="#666" stroke-width="0.6"/>
<line x1="447.50" y1="377.01" x2="446.00" y2="377.01" stroke="#666" stroke-width="0.6"/>
<line x1="301.30" y1="396.40" x2="303.70" y2="396.40" stroke="#666" stroke-width="0.6"/>
<line x1="447.50" y1="396.40" x2="445.10" y2="396.40" stroke="#666" stroke-width="0.6"/>
<line x1="301.30" y1="399.35" x2="302.80" y2="399.35" stroke="#666" stroke-width="0.6"/>
<line x1="447.50" y1="399.35" x2="446.00" y2="399.35" stroke="#666" stroke-width="0.6"/>
<line x1="301.30" y1="402.64" x2="302.80" y2="402.64" stroke="#666" stroke-width="0.6"/>
<line x1="447.50" y1="402.64" x2="446.00" y2="402.64" stroke="#666" stroke-width="0.6"/>
<line x1="301.30" y1="406.38" x2="302.80" y2="406.38" stroke="#666" stroke-width="0.6"/>
<line x1="447.50" y1="406.38" x2="446.00" y2="406.38" stroke="#666" stroke-width="0.6"/>
<line x1="301.30" y1="410.69" x2="302.80" y2="410.69" stroke="#666" stroke-width="0.6"/>
<line x1="447.50" y1="410.69" x2="446.00" y2="410.69" stroke="#666" stroke-width="0.6"/>
<line x1="301.30" y1="415.79" x2="303.70" y2="415.79" stroke="#666" stroke-width="0.6"/>
<line x1="447.50" y1="415.79" x2="445.10" y2="415.79" stroke="#666" stroke-width="0.6"/>
<text x="297.70" y="334.80" font-size="8.7" text-anchor="end" fill="#2a2a2a">1</text>
<text x="297.70" y="354.19" font-size="8.7" text-anchor="end" fill="#2a2a2a">0.50</text>
<text x="297.70" y="399.20" font-size="8.7" text-anchor="end" fill="#2a2a2a">0.10</text>
<text x="297.70" y="418.59" font-size="8.7" text-anchor="end" fill="#2a2a2a">0.05</text>
<line x1="311.45" y1="422.35" x2="311.45" y2="420.85" stroke="#666" stroke-width="0.6"/>
<line x1="321.90" y1="422.35" x2="321.90" y2="419.95" stroke="#666" stroke-width="0.6"/>
<line x1="332.35" y1="422.35" x2="332.35" y2="420.85" stroke="#666" stroke-width="0.6"/>
<line x1="342.80" y1="422.35" x2="342.80" y2="420.85" stroke="#666" stroke-width="0.6"/>
<line x1="353.25" y1="422.35" x2="353.25" y2="420.85" stroke="#666" stroke-width="0.6"/>
<line x1="363.70" y1="422.35" x2="363.70" y2="419.95" stroke="#666" stroke-width="0.6"/>
<line x1="374.15" y1="422.35" x2="374.15" y2="420.85" stroke="#666" stroke-width="0.6"/>
<line x1="384.60" y1="422.35" x2="384.60" y2="420.85" stroke="#666" stroke-width="0.6"/>
<line x1="395.05" y1="422.35" x2="395.05" y2="420.85" stroke="#666" stroke-width="0.6"/>
<line x1="405.50" y1="422.35" x2="405.50" y2="419.95" stroke="#666" stroke-width="0.6"/>
<line x1="415.95" y1="422.35" x2="415.95" y2="420.85" stroke="#666" stroke-width="0.6"/>
<line x1="426.40" y1="422.35" x2="426.40" y2="420.85" stroke="#666" stroke-width="0.6"/>
<line x1="436.85" y1="422.35" x2="436.85" y2="420.85" stroke="#666" stroke-width="0.6"/>
<line x1="447.30" y1="422.35" x2="447.30" y2="419.95" stroke="#666" stroke-width="0.6"/>
<text x="321.90" y="433.30" font-size="8.7" text-anchor="middle" fill="#2a2a2a">0.4</text>
<text x="363.70" y="433.30" font-size="8.7" text-anchor="middle" fill="#2a2a2a">0.6</text>
<text x="405.50" y="433.30" font-size="8.7" text-anchor="middle" fill="#2a2a2a">0.8</text>
<text x="447.30" y="433.30" font-size="8.7" text-anchor="middle" fill="#2a2a2a">1</text>
<text x="368.70" y="449.00" font-size="8.7" fill="#2a2a2a"><tspan font-style="italic">P</tspan><tspan dy="2.0" font-size="6.0" fill="#555">fa</tspan></text>
<text transform="translate(272.30,384.50) rotate(-90)" font-size="8.7" fill="#2a2a2a"><tspan font-style="italic">P</tspan><tspan dy="2.2" font-size="6.0" fill="#444">md</tspan></text>
<path d="M310.0,331.9L310.6,332.0L311.2,332.2L311.7,332.3L312.3,332.5L312.9,332.6L313.5,332.8L314.1,332.9L314.6,333.1L315.2,333.2L315.8,333.4L316.4,333.5L317.0,333.7L317.6,333.8L318.1,334.0L318.7,334.1L319.3,334.3L319.9,334.4L320.5,334.6L321.0,334.7L321.6,334.9L322.2,335.0L322.8,335.2L323.4,335.3L323.9,335.5L324.5,335.6L325.1,335.8L325.7,335.9L326.3,336.1L326.8,336.2L327.4,336.4L328.0,336.5L328.6,336.7L329.2,336.8L329.8,337.0L330.3,337.1L330.9,337.3L331.5,337.4L332.1,337.6L332.7,337.7L333.2,337.9L333.8,338.0L334.4,338.1L335.0,338.3L335.6,338.4L336.1,338.6L336.7,338.7L337.3,338.9L337.9,339.0L338.5,339.2L339.0,339.4L339.6,339.5L340.2,339.7L340.8,339.8L341.4,340.0L341.9,340.1L342.5,340.3L343.1,340.4L343.7,340.6L344.3,340.7L344.8,340.9L345.4,341.1L346.0,341.2L346.6,341.4L347.2,341.5L347.7,341.7L348.3,341.8L348.9,342.0L349.5,342.2L350.1,342.3L350.6,342.5L351.2,342.6L351.8,342.8L352.4,342.9L352.9,343.1L353.5,343.2L354.1,343.4L354.7,343.5L355.3,343.7L355.9,343.8L356.4,344.0L357.0,344.1L357.6,344.3L358.2,344.4L358.8,344.6L359.3,344.7L359.9,344.9L360.5,345.0L361.1,345.2L361.7,345.3L362.2,345.5L362.8,345.7L363.4,345.8L364.0,346.0L364.6,346.1L365.1,346.3L365.7,346.4L366.3,346.6L366.9,346.8L367.4,346.9L368.0,347.1L368.6,347.2L369.2,347.4L369.8,347.6L370.3,347.7L370.9,347.9L371.5,348.1L372.1,348.2L372.6,348.4L373.2,348.6L373.8,348.7L374.4,348.9L374.9,349.1L375.5,349.2L376.1,349.4L376.7,349.6L377.2,349.7L377.8,349.9L378.4,350.1L379.0,350.3L379.5,350.5L380.1,350.6L380.7,350.8L381.2,351.0L381.8,351.2L382.4,351.4L383.0,351.6L383.5,351.7L384.1,351.9L384.7,352.1L385.2,352.3L385.8,352.5L386.4,352.7L386.9,352.9L387.5,353.1L388.1,353.3L388.7,353.5L389.2,353.6L389.8,353.8L390.4,354.0L390.9,354.2L391.5,354.4L392.1,354.6L392.6,354.8L393.2,355.0L393.8,355.1L394.3,355.3L394.9,355.5L395.5,355.7L396.1,355.9L396.6,356.1L397.2,356.3L397.8,356.4L398.3,356.6L398.9,356.8L399.5,357.0L400.0,357.2L400.6,357.4L401.2,357.6L401.7,357.8L402.3,358.0L402.9,358.2L403.4,358.5L404.0,358.7L404.5,358.9L405.1,359.1L405.7,359.3L406.2,359.5L406.8,359.8L407.3,360.0L407.9,360.2L408.4,360.5L409.0,360.7L409.5,360.9L410.1,361.2L410.6,361.4L411.2,361.7L411.7,361.9L412.3,362.1L412.8,362.4L413.4,362.7L413.9,362.9L414.4,363.2L415.0,363.4L415.5,363.7L416.1,364.0L416.6,364.2L417.1,364.5L417.7,364.8L418.2,365.1L418.7,365.4L419.2,365.7L419.8,365.9L420.3,366.2L420.8,366.5L421.3,366.8L421.9,367.1L422.4,367.4L422.9,367.7L423.4,368.0L423.9,368.3L424.5,368.6L425.0,368.9L425.5,369.2L426.0,369.6L426.5,369.9L427.0,370.2L427.5,370.5L428.0,370.9L428.5,371.2L429.0,371.5L429.5,371.9L430.0,372.2L430.5,372.6L431.0,372.9L431.4,373.3L431.9,373.7L432.4,374.0L432.8,374.4L433.3,374.8L433.7,375.2L434.2,375.6L434.6,376.0L435.0,376.4L435.5,376.9L435.9,377.3L436.3,377.8L436.7,378.2L437.1,378.7L437.5,379.1L437.8,379.6L438.2,380.1L438.6,380.5L438.9,381.0L439.3,381.5L439.6,382.0L439.9,382.5L440.2,383.0L440.5,383.5L440.8,384.1L441.1,384.6L441.4,385.1L441.7,385.6L442.0,386.2L442.3,386.7L442.5,387.3L442.8,387.8L443.0,388.4L443.2,388.9L443.4,389.5L443.6,390.0L443.8,390.6L444.0,391.2L444.2,391.7L444.4,392.3L444.6,392.9L444.7,393.5L444.9,394.1L445.0,394.6L445.2,395.2L445.3,395.8L445.4,396.4L445.5,397.0L445.7,397.6L445.8,398.2L445.9,398.8L446.0,399.3L446.1,399.9L446.1,400.5L446.2,401.1L446.3,401.7L446.3,402.3L446.4,402.9L446.4,403.5L446.5,404.1L446.5,404.7L446.5,405.3L446.6,405.9L446.6,406.5L446.7,407.1L446.7,407.7L446.7,408.3L446.7,408.9L446.8,409.5L446.8,410.1L446.8,410.7L446.8,411.3L446.9,411.9L446.9,412.5L446.9,413.1L446.9,413.7L447.0,414.3L447.0,414.9L447.0,415.5L447.0,416.1L447.0,416.7L447.0,417.3L447.0,417.9L447.0,418.5L447.1,419.1" fill="none" stroke="#ff8000" stroke-width="1.75"/>
</svg>
</body></html>
